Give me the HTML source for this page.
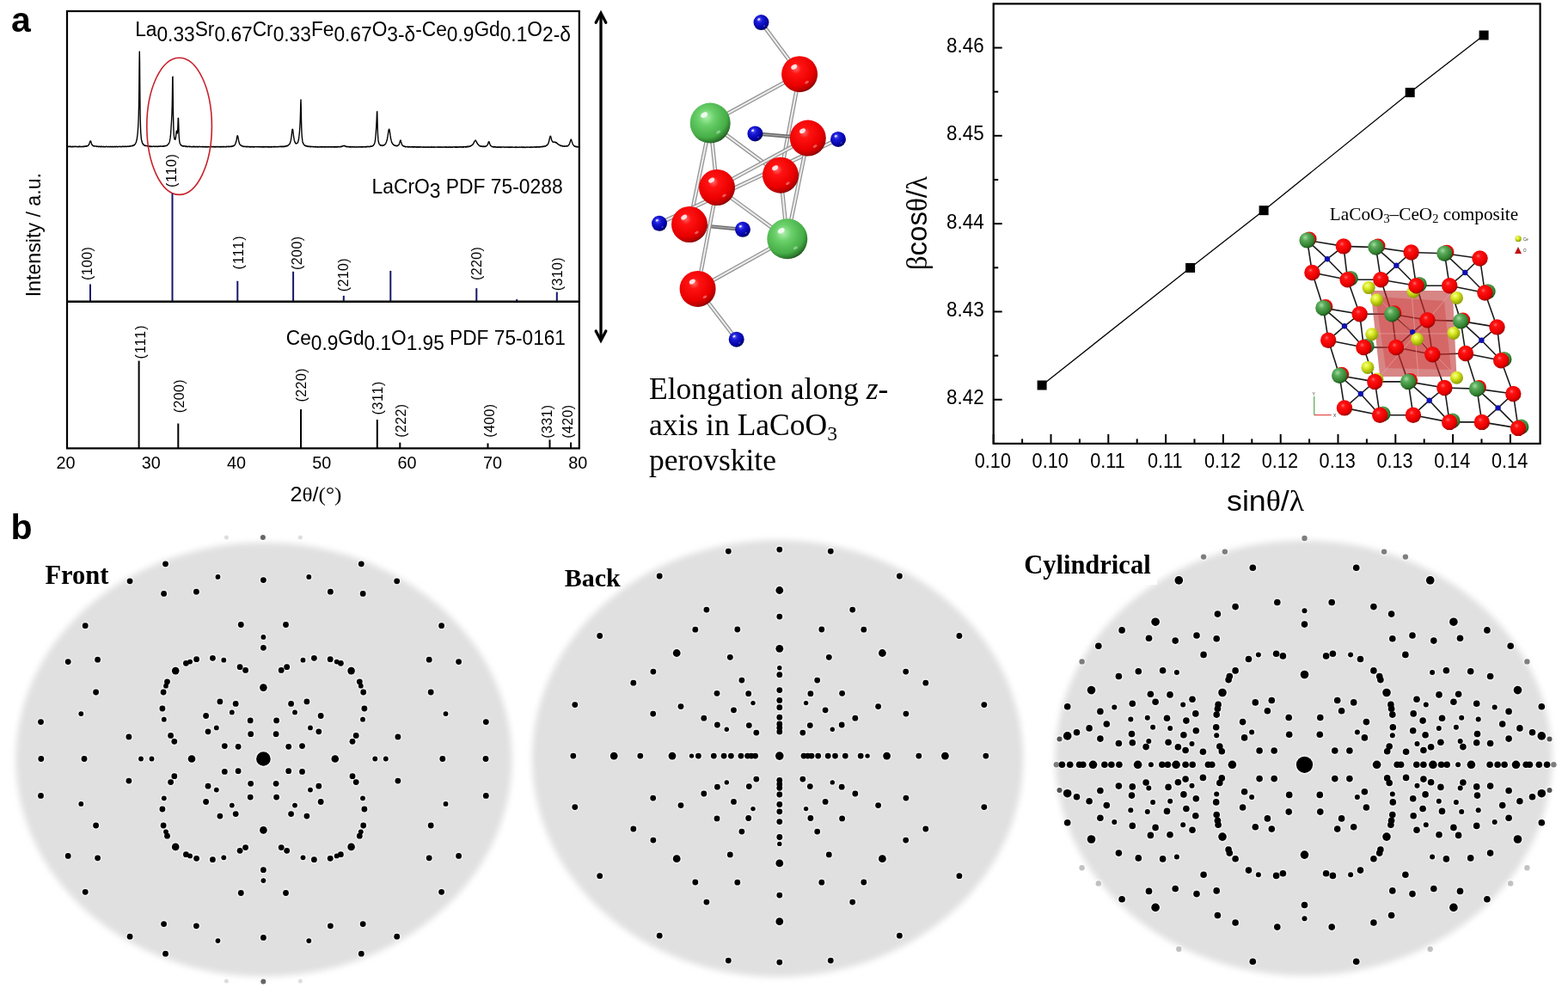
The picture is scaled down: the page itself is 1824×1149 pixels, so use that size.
<!DOCTYPE html><html><head><meta charset="utf-8"><title>Figure</title><style>html,body{margin:0;padding:0;background:#fff;}svg{display:block;}</style></head><body>
<svg width="1824" height="1149" viewBox="0 0 1824 1149">
<defs>
<filter id="blur" x="-5%" y="-5%" width="110%" height="110%"><feGaussianBlur stdDeviation="3.5"/></filter>
<radialGradient id="sph_r" cx="0.4" cy="0.35" r="0.68"><stop offset="0" stop-color="#ff6a6a"/><stop offset="0.22" stop-color="#ff1212"/><stop offset="0.7" stop-color="#ea0000"/><stop offset="0.9" stop-color="#b80000"/><stop offset="1" stop-color="#780000"/></radialGradient>
<radialGradient id="sph_g" cx="0.4" cy="0.35" r="0.68"><stop offset="0" stop-color="#b0f0b0"/><stop offset="0.3" stop-color="#6ad06a"/><stop offset="0.75" stop-color="#46ae46"/><stop offset="0.92" stop-color="#2e7a2e"/><stop offset="1" stop-color="#1c4c1c"/></radialGradient>
<radialGradient id="sph_g2" cx="0.38" cy="0.32" r="0.7"><stop offset="0" stop-color="#a0dca0"/><stop offset="0.3" stop-color="#5aaa5a"/><stop offset="0.8" stop-color="#2e7e2e"/><stop offset="1" stop-color="#1a4a1a"/></radialGradient>
<radialGradient id="sph_b" cx="0.38" cy="0.32" r="0.7"><stop offset="0" stop-color="#6a6aff"/><stop offset="0.3" stop-color="#1a1ad8"/><stop offset="0.8" stop-color="#0000a0"/><stop offset="1" stop-color="#000050"/></radialGradient>
<radialGradient id="sph_y" cx="0.38" cy="0.32" r="0.7"><stop offset="0" stop-color="#f8ff90"/><stop offset="0.4" stop-color="#d8e820"/><stop offset="1" stop-color="#8a9a00"/></radialGradient>
</defs>
<rect width="1824" height="1149" fill="#fff"/>
<text x="13" y="37.3" font-family="'Liberation Sans', Arial, sans-serif" font-weight="bold" font-size="41" fill="#000">a</text>
<text x="12.5" y="626.6" font-family="'Liberation Sans', Arial, sans-serif" font-weight="bold" font-size="41" fill="#000">b</text>
<g id="xrd">
<path d="M79 170.46 L79.25 170.35 L79.5 170.65 L79.75 170.31 L80 170.58 L80.25 170.48 L80.5 170.3 L80.75 170.57 L81 170.28 L81.25 170.52 L81.5 170.3 L81.75 170.32 L82 170.52 L82.25 170.76 L82.5 170.33 L82.75 170.39 L83 170.64 L83.25 170.83 L83.5 170.6 L83.75 170.5 L84 170.84 L84.25 170.29 L84.5 170.77 L84.75 170.43 L85 170.34 L85.25 170.33 L85.5 170.44 L85.75 170.74 L86 170.36 L86.25 170.6 L86.5 170.64 L86.75 170.47 L87 170.58 L87.25 170.29 L87.5 170.28 L87.75 170.37 L88 170.65 L88.25 170.5 L88.5 170.43 L88.75 170.59 L89 170.51 L89.25 170.42 L89.5 170.72 L89.75 170.66 L90 170.38 L90.25 170.58 L90.5 170.55 L90.75 170.76 L91 170.67 L91.25 170.4 L91.5 170.81 L91.75 170.29 L92 170.47 L92.25 170.67 L92.5 170.31 L92.75 170.5 L93 170.23 L93.25 170.61 L93.5 170.66 L93.75 170.54 L94 170.72 L94.25 170.38 L94.5 170.6 L94.75 170.54 L95 170.52 L95.25 170.44 L95.5 170.67 L95.75 170.72 L96 170.43 L96.25 170.54 L96.5 170.17 L96.75 170.54 L97 170.5 L97.25 170.69 L97.5 170.58 L97.75 170.24 L98 170.29 L98.25 170.44 L98.5 170.04 L98.75 170.28 L99 170.08 L99.25 170.02 L99.5 169.96 L99.75 170.35 L100 169.93 L100.25 169.96 L100.5 170 L100.75 170.23 L101 169.69 L101.25 169.83 L101.5 169.8 L101.75 169.9 L102 169.73 L102.25 169.61 L102.5 169.07 L102.75 168.92 L103 168.61 L103.25 168.59 L103.5 168.21 L103.75 167.21 L104 166.6 L104.25 165.92 L104.5 165.16 L104.75 164.61 L105 164.19 L105.25 163.87 L105.5 163.99 L105.75 164.83 L106 165.55 L106.25 166.42 L106.5 167.33 L106.75 167.75 L107 168.12 L107.25 168.57 L107.5 168.92 L107.75 168.81 L108 169.52 L108.25 169.62 L108.5 169.82 L108.75 169.89 L109 169.75 L109.25 169.84 L109.5 169.73 L109.75 170.11 L110 169.82 L110.25 169.87 L110.5 170 L110.75 170.01 L111 170.14 L111.25 170 L111.5 169.99 L111.75 170.11 L112 170.1 L112.25 170.27 L112.5 170.08 L112.75 170.61 L113 170.47 L113.25 170.2 L113.5 170.27 L113.75 170.34 L114 170.36 L114.25 170.22 L114.5 170.67 L114.75 170.76 L115 170.45 L115.25 170.47 L115.5 170.23 L115.75 170.25 L116 170.4 L116.25 170.36 L116.5 170.7 L116.75 170.3 L117 170.22 L117.25 170.78 L117.5 170.53 L117.75 170.31 L118 170.55 L118.25 170.24 L118.5 170.55 L118.75 170.82 L119 170.75 L119.25 170.65 L119.5 170.39 L119.75 170.46 L120 170.34 L120.25 170.71 L120.5 170.56 L120.75 170.71 L121 170.45 L121.25 170.38 L121.5 170.74 L121.75 170.84 L122 170.76 L122.25 170.74 L122.5 170.75 L122.75 170.7 L123 170.39 L123.25 170.57 L123.5 170.47 L123.75 170.28 L124 170.28 L124.25 170.43 L124.5 170.42 L124.75 170.68 L125 170.84 L125.25 170.53 L125.5 170.82 L125.75 170.86 L126 170.84 L126.25 170.48 L126.5 170.4 L126.75 170.4 L127 170.38 L127.25 170.39 L127.5 170.64 L127.75 170.8 L128 170.77 L128.25 170.55 L128.5 170.65 L128.75 170.74 L129 170.31 L129.25 170.66 L129.5 170.81 L129.75 170.73 L130 170.71 L130.25 170.55 L130.5 170.37 L130.75 170.73 L131 170.46 L131.25 170.74 L131.5 170.84 L131.75 170.49 L132 170.5 L132.25 170.82 L132.5 170.69 L132.75 170.36 L133 170.33 L133.25 170.34 L133.5 170.79 L133.75 170.73 L134 170.34 L134.25 170.74 L134.5 170.84 L134.75 170.64 L135 170.45 L135.25 170.57 L135.5 170.32 L135.75 170.25 L136 170.82 L136.25 170.63 L136.5 170.55 L136.75 170.79 L137 170.49 L137.25 170.75 L137.5 170.72 L137.75 170.35 L138 170.38 L138.25 170.4 L138.5 170.36 L138.75 170.57 L139 170.37 L139.25 170.46 L139.5 170.29 L139.75 170.75 L140 170.42 L140.25 170.48 L140.5 170.55 L140.75 170.74 L141 170.44 L141.25 170.74 L141.5 170.49 L141.75 170.5 L142 170.49 L142.25 170.18 L142.5 170.43 L142.75 170.27 L143 170.16 L143.25 170.63 L143.5 170.25 L143.75 170.43 L144 170.57 L144.25 170.47 L144.5 170.32 L144.75 170.43 L145 170.45 L145.25 170.58 L145.5 170.16 L145.75 170.43 L146 170.23 L146.25 170.24 L146.5 170.53 L146.75 170.36 L147 170.38 L147.25 170.49 L147.5 170.57 L147.75 170.28 L148 170.37 L148.25 170.29 L148.5 170.28 L148.75 170.37 L149 170.21 L149.25 170.25 L149.5 170.2 L149.75 170.46 L150 170.29 L150.25 170.38 L150.5 170.39 L150.75 169.96 L151 170.11 L151.25 170.32 L151.5 170.22 L151.75 169.77 L152 169.73 L152.25 169.88 L152.5 169.62 L152.75 169.68 L153 169.53 L153.25 169.84 L153.5 169.85 L153.75 169.86 L154 169.34 L154.25 169.61 L154.5 169.49 L154.75 169.09 L155 169.44 L155.25 169.37 L155.5 168.8 L155.75 169.1 L156 168.61 L156.25 168.49 L156.5 168.59 L156.75 168.26 L157 167.59 L157.25 167.45 L157.5 167.14 L157.75 166.61 L158 166.03 L158.25 165.52 L158.5 165.06 L158.75 163.79 L159 163.09 L159.25 161.78 L159.5 160 L159.75 158.34 L160 156.26 L160.25 153.47 L160.5 149.94 L160.75 146.58 L161 141.58 L161.25 135.02 L161.5 124.2 L161.75 107.07 L162 80.68 L162.25 60.02 L162.5 72.13 L162.75 102.2 L163 125.55 L163.25 140.03 L163.5 148.59 L163.75 153.74 L164 157.34 L164.25 160.37 L164.5 162.03 L164.75 163.52 L165 164.23 L165.25 165.07 L165.5 166.13 L165.75 166.54 L166 166.79 L166.25 167.69 L166.5 167.84 L166.75 168.22 L167 168.03 L167.25 168.7 L167.5 168.41 L167.75 169.04 L168 168.94 L168.25 168.99 L168.5 169.23 L168.75 169.56 L169 169.25 L169.25 169.25 L169.5 169.56 L169.75 169.45 L170 169.43 L170.25 169.52 L170.5 169.5 L170.75 169.64 L171 169.75 L171.25 169.78 L171.5 170.09 L171.75 169.84 L172 170 L172.25 169.83 L172.5 169.96 L172.75 169.79 L173 169.95 L173.25 169.83 L173.5 170.28 L173.75 170.19 L174 169.99 L174.25 170.18 L174.5 170.47 L174.75 169.98 L175 170.42 L175.25 170.2 L175.5 170.25 L175.75 170.47 L176 170.21 L176.25 170.29 L176.5 170.4 L176.75 170.59 L177 170.21 L177.25 170.51 L177.5 170.44 L177.75 170.41 L178 170.27 L178.25 170.24 L178.5 170.07 L178.75 170.12 L179 170.09 L179.25 170.5 L179.5 170.21 L179.75 170.15 L180 170.11 L180.25 170.56 L180.5 170.58 L180.75 170.46 L181 170.23 L181.25 170.21 L181.5 170.24 L181.75 170.34 L182 170.15 L182.25 170.33 L182.5 170.22 L182.75 170.63 L183 170.64 L183.25 170.38 L183.5 170.19 L183.75 170.62 L184 170.23 L184.25 170.25 L184.5 170.03 L184.75 170.25 L185 170.3 L185.25 170.31 L185.5 170.13 L185.75 170.3 L186 169.99 L186.25 170.14 L186.5 170.03 L186.75 170.2 L187 169.98 L187.25 169.95 L187.5 170.11 L187.75 170.05 L188 170.25 L188.25 170.2 L188.5 170.32 L188.75 170.24 L189 170.26 L189.25 170.34 L189.5 170.02 L189.75 169.96 L190 170.33 L190.25 169.8 L190.5 170.11 L190.75 170.03 L191 169.64 L191.25 170.08 L191.5 170.07 L191.75 169.86 L192 169.88 L192.25 169.87 L192.5 169.41 L192.75 169.57 L193 169.49 L193.25 169.6 L193.5 169.5 L193.75 169.41 L194 169.15 L194.25 169.21 L194.5 168.94 L194.75 168.79 L195 168.33 L195.25 168 L195.5 167.82 L195.75 167.68 L196 167.19 L196.25 167.25 L196.5 166.62 L196.75 166.11 L197 165.44 L197.25 164.67 L197.5 163.55 L197.75 162.01 L198 160.93 L198.25 158.95 L198.5 156.34 L198.75 153.33 L199 149.77 L199.25 145.29 L199.5 141.35 L199.75 136.65 L200 131.47 L200.25 123.64 L200.5 109.39 L200.75 89.67 L201 89.21 L201.25 112.16 L201.5 132.18 L201.75 144.29 L202 151.43 L202.25 155.87 L202.5 158.66 L202.75 160.37 L203 161.54 L203.25 161.9 L203.5 162.24 L203.75 162.25 L204 162.09 L204.25 160.9 L204.5 159.56 L204.75 157.1 L205 154.59 L205.25 152.59 L205.5 152.25 L205.75 153.28 L206 154.7 L206.25 155.06 L206.5 154.18 L206.75 150.81 L207 144.62 L207.25 137.43 L207.5 137.49 L207.75 144.58 L208 153.06 L208.25 158.53 L208.5 161.42 L208.75 163.88 L209 165.56 L209.25 166.66 L209.5 167.08 L209.75 167.52 L210 167.9 L210.25 168.67 L210.5 168.5 L210.75 168.94 L211 168.86 L211.25 169.24 L211.5 169.63 L211.75 169.25 L212 169.76 L212.25 169.66 L212.5 169.96 L212.75 169.92 L213 169.7 L213.25 170.15 L213.5 169.95 L213.75 169.72 L214 169.75 L214.25 170.08 L214.5 170.09 L214.75 170.03 L215 169.96 L215.25 170.11 L215.5 170.12 L215.75 170.46 L216 169.97 L216.25 170.44 L216.5 170.52 L216.75 170.1 L217 170.6 L217.25 170.49 L217.5 170.62 L217.75 170.26 L218 170.33 L218.25 170.35 L218.5 170.73 L218.75 170.49 L219 170.37 L219.25 170.42 L219.5 170.33 L219.75 170.21 L220 170.25 L220.25 170.7 L220.5 170.37 L220.75 170.77 L221 170.37 L221.25 170.38 L221.5 170.54 L221.75 170.35 L222 170.47 L222.25 170.82 L222.5 170.79 L222.75 170.75 L223 170.65 L223.25 170.82 L223.5 170.84 L223.75 170.61 L224 170.72 L224.25 170.32 L224.5 170.73 L224.75 170.57 L225 170.75 L225.25 170.69 L225.5 170.48 L225.75 170.34 L226 170.87 L226.25 170.4 L226.5 170.61 L226.75 170.53 L227 170.51 L227.25 170.78 L227.5 170.92 L227.75 170.5 L228 170.74 L228.25 170.53 L228.5 170.68 L228.75 170.59 L229 170.45 L229.25 170.45 L229.5 170.48 L229.75 170.9 L230 170.66 L230.25 170.5 L230.5 170.91 L230.75 170.97 L231 170.64 L231.25 170.46 L231.5 170.49 L231.75 170.43 L232 170.58 L232.25 170.43 L232.5 170.52 L232.75 170.54 L233 170.73 L233.25 170.92 L233.5 170.84 L233.75 170.64 L234 170.64 L234.25 170.71 L234.5 170.62 L234.75 170.6 L235 170.43 L235.25 170.56 L235.5 170.98 L235.75 170.47 L236 170.7 L236.25 170.78 L236.5 170.92 L236.75 170.53 L237 170.57 L237.25 170.55 L237.5 170.65 L237.75 170.68 L238 170.98 L238.25 170.92 L238.5 170.93 L238.75 170.42 L239 170.43 L239.25 170.84 L239.5 170.95 L239.75 170.7 L240 170.77 L240.25 170.42 L240.5 170.65 L240.75 170.97 L241 170.91 L241.25 170.93 L241.5 171 L241.75 170.57 L242 170.49 L242.25 170.51 L242.5 170.74 L242.75 170.83 L243 170.99 L243.25 170.86 L243.5 170.81 L243.75 170.88 L244 170.7 L244.25 170.76 L244.5 170.45 L244.75 170.9 L245 170.57 L245.25 170.98 L245.5 170.82 L245.75 170.61 L246 170.51 L246.25 170.58 L246.5 170.81 L246.75 170.85 L247 170.5 L247.25 170.47 L247.5 170.74 L247.75 170.78 L248 170.66 L248.25 170.56 L248.5 170.79 L248.75 170.44 L249 170.61 L249.25 170.71 L249.5 171.01 L249.75 170.82 L250 170.96 L250.25 170.71 L250.5 170.57 L250.75 170.58 L251 171.01 L251.25 170.85 L251.5 170.61 L251.75 170.44 L252 170.73 L252.25 170.83 L252.5 170.68 L252.75 170.58 L253 170.83 L253.25 170.98 L253.5 170.56 L253.75 170.44 L254 170.63 L254.25 170.67 L254.5 170.83 L254.75 170.54 L255 170.9 L255.25 170.86 L255.5 170.72 L255.75 170.54 L256 171 L256.25 170.6 L256.5 170.91 L256.75 170.55 L257 170.54 L257.25 170.87 L257.5 170.58 L257.75 170.98 L258 170.7 L258.25 170.51 L258.5 170.53 L258.75 170.65 L259 170.79 L259.25 170.96 L259.5 170.48 L259.75 170.62 L260 170.51 L260.25 170.97 L260.5 170.46 L260.75 170.41 L261 170.41 L261.25 170.6 L261.5 170.9 L261.75 170.89 L262 170.8 L262.25 170.95 L262.5 170.91 L262.75 170.54 L263 170.45 L263.25 170.89 L263.5 170.77 L263.75 170.34 L264 170.71 L264.25 170.53 L264.5 170.52 L264.75 170.49 L265 170.38 L265.25 170.27 L265.5 170.42 L265.75 170.46 L266 170.81 L266.25 170.29 L266.5 170.79 L266.75 170.32 L267 170.39 L267.25 170.65 L267.5 170.63 L267.75 170.38 L268 170.12 L268.25 170.35 L268.5 170.27 L268.75 170.56 L269 170.1 L269.25 170.16 L269.5 170.44 L269.75 169.88 L270 170.05 L270.25 170.24 L270.5 170.15 L270.75 169.64 L271 169.56 L271.25 169.49 L271.5 169.9 L271.75 169.38 L272 169.54 L272.25 169.47 L272.5 168.95 L272.75 168.69 L273 168.84 L273.25 168.33 L273.5 167.75 L273.75 167.57 L274 166.79 L274.25 166.11 L274.5 165.14 L274.75 164.63 L275 163.58 L275.25 162.09 L275.5 160.87 L275.75 158.97 L276 158.04 L276.25 157.7 L276.5 158.2 L276.75 159.06 L277 159.98 L277.25 161.31 L277.5 162.78 L277.75 164.04 L278 165.34 L278.25 165.76 L278.5 166.84 L278.75 167.39 L279 167.92 L279.25 168.29 L279.5 168.52 L279.75 168.64 L280 168.86 L280.25 169.09 L280.5 169.51 L280.75 169.23 L281 169.43 L281.25 169.87 L281.5 169.67 L281.75 169.64 L282 169.7 L282.25 170.07 L282.5 170 L282.75 170.44 L283 170.43 L283.25 170.54 L283.5 170.14 L283.75 170.07 L284 170.11 L284.25 170.38 L284.5 170.53 L284.75 170.4 L285 170.29 L285.25 170.42 L285.5 170.56 L285.75 170.61 L286 170.67 L286.25 170.75 L286.5 170.65 L286.75 170.34 L287 170.78 L287.25 170.47 L287.5 170.64 L287.75 170.53 L288 170.76 L288.25 170.45 L288.5 170.48 L288.75 170.49 L289 170.44 L289.25 170.89 L289.5 170.71 L289.75 170.57 L290 170.61 L290.25 170.98 L290.5 170.69 L290.75 170.53 L291 170.88 L291.25 170.79 L291.5 171 L291.75 170.47 L292 170.7 L292.25 170.91 L292.5 170.93 L292.75 170.97 L293 170.45 L293.25 170.61 L293.5 170.51 L293.75 170.55 L294 171.02 L294.25 170.79 L294.5 171 L294.75 170.67 L295 170.97 L295.25 170.72 L295.5 170.61 L295.75 170.92 L296 171.02 L296.25 170.52 L296.5 170.82 L296.75 170.83 L297 170.59 L297.25 170.69 L297.5 170.55 L297.75 170.59 L298 170.62 L298.25 170.83 L298.5 170.86 L298.75 170.6 L299 170.48 L299.25 170.67 L299.5 170.88 L299.75 170.59 L300 170.67 L300.25 170.6 L300.5 170.96 L300.75 170.81 L301 170.52 L301.25 170.54 L301.5 170.72 L301.75 170.81 L302 170.87 L302.25 170.54 L302.5 170.58 L302.75 170.9 L303 170.73 L303.25 170.66 L303.5 170.67 L303.75 171.06 L304 170.68 L304.25 170.83 L304.5 170.7 L304.75 170.74 L305 171.01 L305.25 171.09 L305.5 170.71 L305.75 170.61 L306 170.93 L306.25 170.61 L306.5 170.49 L306.75 171.03 L307 170.75 L307.25 170.98 L307.5 170.73 L307.75 171.02 L308 170.77 L308.25 170.59 L308.5 170.5 L308.75 170.82 L309 170.87 L309.25 171.03 L309.5 170.54 L309.75 170.86 L310 170.71 L310.25 170.79 L310.5 170.57 L310.75 170.66 L311 170.8 L311.25 171.04 L311.5 170.55 L311.75 170.78 L312 170.97 L312.25 171.06 L312.5 170.6 L312.75 170.56 L313 171.05 L313.25 171.06 L313.5 170.77 L313.75 170.51 L314 171.03 L314.25 170.71 L314.5 171.02 L314.75 170.84 L315 170.97 L315.25 170.57 L315.5 170.94 L315.75 170.6 L316 170.71 L316.25 170.97 L316.5 170.96 L316.75 170.57 L317 170.59 L317.25 170.7 L317.5 170.76 L317.75 170.68 L318 170.52 L318.25 170.6 L318.5 170.88 L318.75 170.98 L319 170.46 L319.25 170.77 L319.5 170.89 L319.75 170.45 L320 170.93 L320.25 170.5 L320.5 170.78 L320.75 170.75 L321 170.79 L321.25 170.6 L321.5 170.66 L321.75 170.75 L322 170.65 L322.25 170.79 L322.5 170.66 L322.75 170.65 L323 170.39 L323.25 170.75 L323.5 170.66 L323.75 170.51 L324 170.82 L324.25 170.82 L324.5 170.62 L324.75 170.45 L325 170.62 L325.25 170.39 L325.5 170.39 L325.75 170.57 L326 170.35 L326.25 170.56 L326.5 170.59 L326.75 170.29 L327 170.64 L327.25 170.3 L327.5 170.68 L327.75 170.69 L328 170.52 L328.25 170.23 L328.5 170.48 L328.75 170.39 L329 170.72 L329.25 170.21 L329.5 170.62 L329.75 170.69 L330 170.51 L330.25 170.53 L330.5 170.14 L330.75 170.58 L331 170.26 L331.25 170.51 L331.5 170.45 L331.75 169.96 L332 170.29 L332.25 170.34 L332.5 169.77 L332.75 169.89 L333 170.08 L333.25 169.66 L333.5 170.03 L333.75 169.58 L334 169.82 L334.25 169.33 L334.5 169.44 L334.75 169.58 L335 169.02 L335.25 168.9 L335.5 168.88 L335.75 168.57 L336 168.18 L336.25 168.01 L336.5 167.7 L336.75 167.82 L337 167.25 L337.25 166.89 L337.5 165.86 L337.75 165.53 L338 164.27 L338.25 163.48 L338.5 162.28 L338.75 160.59 L339 159.09 L339.25 156.84 L339.5 154.64 L339.75 152.7 L340 150.58 L340.25 150.32 L340.5 150.41 L340.75 151.57 L341 153.74 L341.25 155.57 L341.5 158.09 L341.75 159.69 L342 161.13 L342.25 162.66 L342.5 163.52 L342.75 164.21 L343 165.22 L343.25 165.35 L343.5 166.23 L343.75 166.22 L344 166.7 L344.25 167.08 L344.5 166.95 L344.75 167.04 L345 166.82 L345.25 166.57 L345.5 166.45 L345.75 166.32 L346 166.32 L346.25 165.83 L346.5 165.4 L346.75 165 L347 163.74 L347.25 162.78 L347.5 161.75 L347.75 159.73 L348 157.67 L348.25 155.36 L348.5 152.19 L348.75 148.82 L349 144.61 L349.25 139.56 L349.5 131.85 L349.75 121.11 L350 115.9 L350.25 124.95 L350.5 138.39 L350.75 148.71 L351 154.47 L351.25 158.36 L351.5 160.97 L351.75 163.14 L352 164.64 L352.25 165.61 L352.5 166.17 L352.75 166.72 L353 167.07 L353.25 167.86 L353.5 168.16 L353.75 168.32 L354 168.74 L354.25 168.83 L354.5 169.31 L354.75 169.34 L355 169.19 L355.25 169.71 L355.5 169.3 L355.75 169.69 L356 169.7 L356.25 169.67 L356.5 169.64 L356.75 170.13 L357 169.73 L357.25 170.1 L357.5 170.39 L357.75 169.95 L358 170.02 L358.25 170.31 L358.5 170.28 L358.75 170.39 L359 170.53 L359.25 170.17 L359.5 170.28 L359.75 170.29 L360 170.17 L360.25 170.69 L360.5 170.65 L360.75 170.63 L361 170.22 L361.25 170.74 L361.5 170.69 L361.75 170.54 L362 170.72 L362.25 170.56 L362.5 170.44 L362.75 170.37 L363 170.46 L363.25 170.36 L363.5 170.54 L363.75 170.8 L364 170.78 L364.25 170.88 L364.5 170.81 L364.75 170.55 L365 170.73 L365.25 170.66 L365.5 170.88 L365.75 170.73 L366 170.58 L366.25 170.81 L366.5 171.01 L366.75 170.57 L367 170.97 L367.25 170.46 L367.5 170.61 L367.75 170.6 L368 170.91 L368.25 171.04 L368.5 170.92 L368.75 170.68 L369 171.01 L369.25 170.69 L369.5 170.64 L369.75 171.04 L370 170.88 L370.25 170.92 L370.5 170.91 L370.75 171.1 L371 170.79 L371.25 171.02 L371.5 170.94 L371.75 171.04 L372 170.79 L372.25 170.96 L372.5 170.87 L372.75 170.72 L373 170.66 L373.25 170.91 L373.5 170.59 L373.75 171.09 L374 170.63 L374.25 170.56 L374.5 170.61 L374.75 171.11 L375 170.76 L375.25 170.64 L375.5 170.57 L375.75 170.58 L376 170.97 L376.25 170.94 L376.5 170.98 L376.75 171.01 L377 170.6 L377.25 170.92 L377.5 170.79 L377.75 171.06 L378 171.06 L378.25 171.11 L378.5 170.61 L378.75 171.09 L379 171.12 L379.25 171.14 L379.5 170.64 L379.75 170.7 L380 170.65 L380.25 170.6 L380.5 171.09 L380.75 171.07 L381 170.96 L381.25 171.08 L381.5 170.96 L381.75 170.76 L382 170.65 L382.25 170.64 L382.5 171.04 L382.75 170.71 L383 170.78 L383.25 170.84 L383.5 170.6 L383.75 170.74 L384 170.76 L384.25 171.02 L384.5 170.81 L384.75 170.78 L385 171.17 L385.25 170.89 L385.5 171.1 L385.75 170.96 L386 170.61 L386.25 170.84 L386.5 170.85 L386.75 171.05 L387 170.79 L387.25 171.01 L387.5 170.91 L387.75 170.71 L388 171.1 L388.25 170.64 L388.5 171.07 L388.75 170.68 L389 170.58 L389.25 170.7 L389.5 171.03 L389.75 171.16 L390 170.57 L390.25 170.86 L390.5 170.86 L390.75 171.04 L391 170.67 L391.25 170.85 L391.5 170.76 L391.75 171.05 L392 170.7 L392.25 171.11 L392.5 170.71 L392.75 170.66 L393 170.94 L393.25 170.81 L393.5 170.57 L393.75 170.88 L394 170.54 L394.25 170.95 L394.5 170.88 L394.75 170.92 L395 170.81 L395.25 170.63 L395.5 170.63 L395.75 170.6 L396 170.87 L396.25 170.36 L396.5 170.8 L396.75 170.24 L397 170.3 L397.25 170.28 L397.5 170.6 L397.75 170.28 L398 170.12 L398.25 170.32 L398.5 169.82 L398.75 169.84 L399 169.76 L399.25 169.78 L399.5 169.68 L399.75 169.55 L400 169.35 L400.25 169.36 L400.5 169.32 L400.75 169.83 L401 169.84 L401.25 170.01 L401.5 169.78 L401.75 170.06 L402 170.36 L402.25 170.33 L402.5 170.13 L402.75 170.4 L403 170.71 L403.25 170.37 L403.5 170.39 L403.75 170.49 L404 170.76 L404.25 170.88 L404.5 170.49 L404.75 170.51 L405 170.58 L405.25 170.65 L405.5 170.78 L405.75 170.57 L406 170.69 L406.25 170.61 L406.5 171.09 L406.75 170.96 L407 170.59 L407.25 171.11 L407.5 170.6 L407.75 170.77 L408 171.14 L408.25 171.03 L408.5 171 L408.75 170.82 L409 170.68 L409.25 170.95 L409.5 170.63 L409.75 170.7 L410 170.81 L410.25 170.6 L410.5 170.82 L410.75 171.05 L411 171 L411.25 170.88 L411.5 170.96 L411.75 170.86 L412 170.67 L412.25 170.95 L412.5 170.83 L412.75 171.03 L413 171.13 L413.25 170.85 L413.5 170.93 L413.75 171.04 L414 170.84 L414.25 170.72 L414.5 171.02 L414.75 171.11 L415 171.05 L415.25 171.01 L415.5 171.1 L415.75 170.99 L416 170.97 L416.25 170.85 L416.5 170.77 L416.75 170.96 L417 170.64 L417.25 170.83 L417.5 171.04 L417.75 171 L418 170.95 L418.25 170.72 L418.5 170.82 L418.75 170.84 L419 170.94 L419.25 170.81 L419.5 170.96 L419.75 171.11 L420 170.66 L420.25 170.94 L420.5 171.02 L420.75 170.78 L421 170.84 L421.25 171.12 L421.5 170.56 L421.75 170.86 L422 170.62 L422.25 170.99 L422.5 171.08 L422.75 170.83 L423 170.57 L423.25 170.85 L423.5 170.82 L423.75 170.92 L424 170.79 L424.25 170.86 L424.5 170.97 L424.75 170.78 L425 170.71 L425.25 171.02 L425.5 170.57 L425.75 170.85 L426 170.66 L426.25 170.87 L426.5 170.48 L426.75 170.99 L427 170.6 L427.25 170.4 L427.5 170.52 L427.75 170.58 L428 170.34 L428.25 170.56 L428.5 170.55 L428.75 170.7 L429 170.47 L429.25 170.39 L429.5 170.35 L429.75 170.63 L430 170.72 L430.25 170.44 L430.5 170.23 L430.75 170.54 L431 170.25 L431.25 170.1 L431.5 170.01 L431.75 170.34 L432 170.3 L432.25 170.13 L432.5 169.95 L432.75 169.93 L433 169.63 L433.25 169.96 L433.5 169.47 L433.75 169.49 L434 169.43 L434.25 169.22 L434.5 168.77 L434.75 168.38 L435 168.18 L435.25 167.49 L435.5 167.38 L435.75 166.41 L436 165.84 L436.25 164.37 L436.5 162.96 L436.75 160.95 L437 158.53 L437.25 155.17 L437.5 151.21 L437.75 147.43 L438 142.76 L438.25 137.39 L438.5 130.63 L438.75 129.64 L439 139.42 L439.25 149.73 L439.5 156.27 L439.75 160.06 L440 162.92 L440.25 164.57 L440.5 165.28 L440.75 166.61 L441 167.3 L441.25 167.72 L441.5 167.72 L441.75 168.44 L442 168.56 L442.25 168.38 L442.5 168.53 L442.75 169.22 L443 169.14 L443.25 168.97 L443.5 168.93 L443.75 169 L444 169.07 L444.25 169.41 L444.5 169.15 L444.75 169.02 L445 169.45 L445.25 169.34 L445.5 168.92 L445.75 169.29 L446 169.05 L446.25 169.06 L446.5 168.89 L446.75 168.9 L447 168.7 L447.25 168.56 L447.5 167.99 L447.75 168.07 L448 167.73 L448.25 167.57 L448.5 167.05 L448.75 166.94 L449 166.29 L449.25 165.6 L449.5 164.97 L449.75 164.21 L450 163.59 L450.25 162.35 L450.5 161.47 L450.75 159.97 L451 158.69 L451.25 157.05 L451.5 155.32 L451.75 153.77 L452 151.68 L452.25 150.98 L452.5 150.14 L452.75 150.27 L453 151.08 L453.25 152.49 L453.5 153.84 L453.75 155.63 L454 157.69 L454.25 158.78 L454.5 160.58 L454.75 161.85 L455 162.59 L455.25 163.89 L455.5 164.75 L455.75 165.59 L456 165.82 L456.25 166.73 L456.5 166.88 L456.75 167.25 L457 167.83 L457.25 167.59 L457.5 168.25 L457.75 168.42 L458 168.44 L458.25 168.92 L458.5 168.77 L458.75 168.96 L459 169.1 L459.25 169.35 L459.5 169.1 L459.75 169.31 L460 169.36 L460.25 169.49 L460.5 169.69 L460.75 169.4 L461 169.74 L461.25 169.49 L461.5 169.55 L461.75 169.39 L462 169.5 L462.25 169.73 L462.5 169.46 L462.75 169.45 L463 169.05 L463.25 168.87 L463.5 168.65 L463.75 168.55 L464 168.23 L464.25 167.87 L464.5 166.86 L464.75 166.57 L465 165.85 L465.25 164.75 L465.5 163.64 L465.75 163.27 L466 163.05 L466.25 163.63 L466.5 164.88 L466.75 165.62 L467 166.52 L467.25 167.36 L467.5 168.06 L467.75 168.39 L468 168.79 L468.25 169.12 L468.5 169.43 L468.75 169.58 L469 169.81 L469.25 169.67 L469.5 170.07 L469.75 170.05 L470 170.32 L470.25 170 L470.5 170.11 L470.75 170.08 L471 170.58 L471.25 170.7 L471.5 170.59 L471.75 170.45 L472 170.76 L472.25 170.77 L472.5 170.66 L472.75 170.5 L473 170.55 L473.25 170.64 L473.5 170.6 L473.75 170.68 L474 170.82 L474.25 171.01 L474.5 170.5 L474.75 170.82 L475 170.52 L475.25 170.58 L475.5 171 L475.75 170.87 L476 171.09 L476.25 170.81 L476.5 170.56 L476.75 170.79 L477 170.92 L477.25 171.14 L477.5 171.17 L477.75 170.87 L478 170.84 L478.25 170.66 L478.5 170.99 L478.75 170.74 L479 170.71 L479.25 170.63 L479.5 170.63 L479.75 171.04 L480 170.71 L480.25 171.22 L480.5 170.7 L480.75 171.17 L481 170.73 L481.25 170.67 L481.5 171.09 L481.75 170.81 L482 171.11 L482.25 170.78 L482.5 170.71 L482.75 171.14 L483 171.11 L483.25 171.2 L483.5 171.13 L483.75 170.74 L484 171.07 L484.25 171.12 L484.5 170.97 L484.75 171.26 L485 170.86 L485.25 171.28 L485.5 171.14 L485.75 170.72 L486 170.72 L486.25 171.1 L486.5 171.21 L486.75 170.77 L487 170.91 L487.25 171.16 L487.5 170.82 L487.75 171.24 L488 171.02 L488.25 170.77 L488.5 170.95 L488.75 171.08 L489 171 L489.25 171.14 L489.5 170.82 L489.75 171.22 L490 170.96 L490.25 171.13 L490.5 171.12 L490.75 171 L491 170.98 L491.25 171.22 L491.5 171.32 L491.75 171.22 L492 171.09 L492.25 170.93 L492.5 170.79 L492.75 171.34 L493 171.18 L493.25 171.25 L493.5 170.96 L493.75 171.12 L494 171.35 L494.25 171.26 L494.5 171.12 L494.75 170.95 L495 171.02 L495.25 171.3 L495.5 170.99 L495.75 171.18 L496 171.13 L496.25 171.31 L496.5 171.26 L496.75 170.94 L497 170.77 L497.25 170.93 L497.5 171.03 L497.75 171.13 L498 171.27 L498.25 171.31 L498.5 170.8 L498.75 171.28 L499 171.27 L499.25 171.3 L499.5 171.12 L499.75 170.95 L500 171.29 L500.25 171.27 L500.5 171.19 L500.75 171.33 L501 170.99 L501.25 170.84 L501.5 171.12 L501.75 171.27 L502 170.91 L502.25 171.24 L502.5 171.35 L502.75 170.93 L503 171.15 L503.25 171.2 L503.5 171.07 L503.75 170.92 L504 170.95 L504.25 171.24 L504.5 171.27 L504.75 171.07 L505 170.85 L505.25 171.28 L505.5 171.26 L505.75 170.94 L506 171.14 L506.25 171.33 L506.5 171.33 L506.75 171.11 L507 171.08 L507.25 171.15 L507.5 170.91 L507.75 170.91 L508 170.91 L508.25 171.22 L508.5 171.02 L508.75 171.14 L509 171.04 L509.25 171.11 L509.5 170.89 L509.75 170.83 L510 171.4 L510.25 171.03 L510.5 170.87 L510.75 171.18 L511 171.28 L511.25 170.9 L511.5 171.16 L511.75 171.01 L512 171.12 L512.25 170.82 L512.5 170.83 L512.75 171.4 L513 171.32 L513.25 171.1 L513.5 171.15 L513.75 170.96 L514 171.27 L514.25 171.06 L514.5 171.37 L514.75 171.27 L515 171.3 L515.25 171.38 L515.5 170.96 L515.75 170.83 L516 170.93 L516.25 170.91 L516.5 170.86 L516.75 170.84 L517 171.14 L517.25 171.33 L517.5 171.08 L517.75 171.37 L518 171.35 L518.25 170.84 L518.5 171.16 L518.75 171.04 L519 170.88 L519.25 171.38 L519.5 170.96 L519.75 171.14 L520 171.19 L520.25 171.38 L520.5 171.21 L520.75 171.04 L521 171.07 L521.25 170.9 L521.5 171.38 L521.75 171.4 L522 170.94 L522.25 170.83 L522.5 170.96 L522.75 171.01 L523 171.34 L523.25 171.34 L523.5 171.3 L523.75 170.83 L524 171.27 L524.25 171.22 L524.5 171.19 L524.75 171.39 L525 170.83 L525.25 170.88 L525.5 171.25 L525.75 171.36 L526 171.2 L526.25 170.97 L526.5 171.15 L526.75 171.25 L527 170.85 L527.25 170.98 L527.5 170.94 L527.75 170.86 L528 171.07 L528.25 170.88 L528.5 170.93 L528.75 170.87 L529 171.19 L529.25 170.79 L529.5 171.21 L529.75 170.89 L530 170.8 L530.25 171.33 L530.5 170.9 L530.75 171.33 L531 171.29 L531.25 171.3 L531.5 170.85 L531.75 171.03 L532 170.82 L532.25 171.31 L532.5 171.26 L532.75 171.13 L533 171.02 L533.25 170.95 L533.5 171.24 L533.75 171.03 L534 171.11 L534.25 170.82 L534.5 170.86 L534.75 170.76 L535 171.15 L535.25 171.05 L535.5 170.8 L535.75 171.23 L536 170.87 L536.25 170.95 L536.5 170.79 L536.75 170.85 L537 171.19 L537.25 170.88 L537.5 170.78 L537.75 170.96 L538 170.85 L538.25 171.2 L538.5 170.72 L538.75 171.23 L539 170.67 L539.25 171.16 L539.5 171.02 L539.75 170.73 L540 170.88 L540.25 170.76 L540.5 170.73 L540.75 170.68 L541 170.77 L541.25 171.13 L541.5 171.12 L541.75 171.06 L542 170.55 L542.25 170.65 L542.5 170.99 L542.75 170.47 L543 170.85 L543.25 170.57 L543.5 170.95 L543.75 170.35 L544 170.8 L544.25 170.49 L544.5 170.33 L544.75 170.22 L545 170.68 L545.25 170.45 L545.5 170.2 L545.75 170.3 L546 170.53 L546.25 170.06 L546.5 170.21 L546.75 169.87 L547 169.82 L547.25 170.09 L547.5 169.96 L547.75 169.54 L548 169.35 L548.25 169.22 L548.5 169.38 L548.75 169.15 L549 168.83 L549.25 168.58 L549.5 168.58 L549.75 168.37 L550 168.14 L550.25 167.66 L550.5 167.06 L550.75 166.57 L551 166.51 L551.25 165.84 L551.5 165.52 L551.75 164.61 L552 164.57 L552.25 163.85 L552.5 163.81 L552.75 163.6 L553 163.3 L553.25 163.09 L553.5 163.85 L553.75 163.93 L554 164.6 L554.25 164.73 L554.5 165.19 L554.75 166.08 L555 166.28 L555.25 166.6 L555.5 167.14 L555.75 167.65 L556 167.62 L556.25 168.23 L556.5 168.45 L556.75 168.73 L557 168.7 L557.25 169.24 L557.5 169.46 L557.75 169.64 L558 169.44 L558.25 169.79 L558.5 169.69 L558.75 170.01 L559 169.68 L559.25 170.24 L559.5 170.35 L559.75 170.13 L560 170.19 L560.25 170.25 L560.5 170.3 L560.75 170.02 L561 170.62 L561.25 170.2 L561.5 170.2 L561.75 170.17 L562 170.27 L562.25 170.62 L562.5 170.16 L562.75 170.2 L563 170.56 L563.25 170.25 L563.5 170.13 L563.75 170.47 L564 170.43 L564.25 170.36 L564.5 170.43 L564.75 170.02 L565 170.42 L565.25 170.25 L565.5 169.75 L565.75 169.67 L566 169.75 L566.25 169.56 L566.5 169.19 L566.75 168.8 L567 168.59 L567.25 167.95 L567.5 167.63 L567.75 167.09 L568 165.89 L568.25 165.41 L568.5 164.99 L568.75 164.51 L569 165.22 L569.25 165.94 L569.5 166.39 L569.75 167.17 L570 168.1 L570.25 168.46 L570.5 168.84 L570.75 169.52 L571 169.71 L571.25 169.68 L571.5 169.81 L571.75 170.02 L572 170.2 L572.25 170.64 L572.5 170.62 L572.75 170.76 L573 170.76 L573.25 170.84 L573.5 170.41 L573.75 170.73 L574 171.03 L574.25 171.05 L574.5 170.67 L574.75 170.8 L575 170.95 L575.25 170.81 L575.5 170.93 L575.75 170.67 L576 170.9 L576.25 170.96 L576.5 170.68 L576.75 170.77 L577 171.27 L577.25 171.17 L577.5 171.28 L577.75 171.1 L578 171.22 L578.25 171.27 L578.5 171.28 L578.75 170.77 L579 171.14 L579.25 170.92 L579.5 171.18 L579.75 170.94 L580 171.11 L580.25 171.34 L580.5 171.16 L580.75 170.95 L581 171.11 L581.25 171.06 L581.5 171.38 L581.75 170.98 L582 171 L582.25 171.21 L582.5 170.89 L582.75 171.18 L583 171.4 L583.25 171.14 L583.5 170.99 L583.75 171.11 L584 171.16 L584.25 170.93 L584.5 170.91 L584.75 170.92 L585 171.02 L585.25 171.09 L585.5 171.02 L585.75 171 L586 170.9 L586.25 171.18 L586.5 171.36 L586.75 171.22 L587 171.2 L587.25 171.25 L587.5 170.98 L587.75 171.29 L588 171.14 L588.25 171.19 L588.5 171.23 L588.75 171.15 L589 171.05 L589.25 171.02 L589.5 171 L589.75 171.18 L590 171.1 L590.25 171.23 L590.5 170.88 L590.75 171.09 L591 171.39 L591.25 171.02 L591.5 171.21 L591.75 171.17 L592 171.05 L592.25 171.47 L592.5 171.06 L592.75 171.34 L593 170.98 L593.25 170.92 L593.5 171.41 L593.75 171.15 L594 170.92 L594.25 171.12 L594.5 171.15 L594.75 171.33 L595 170.95 L595.25 171.02 L595.5 171.46 L595.75 171.33 L596 170.98 L596.25 171.09 L596.5 171.1 L596.75 171.29 L597 171.26 L597.25 171.4 L597.5 171.38 L597.75 171.2 L598 171.33 L598.25 171.34 L598.5 171.35 L598.75 171.18 L599 171.36 L599.25 171.32 L599.5 171.44 L599.75 170.97 L600 171.41 L600.25 170.89 L600.5 171.35 L600.75 171.24 L601 171.19 L601.25 171.47 L601.5 171.23 L601.75 171.14 L602 171.36 L602.25 171.41 L602.5 171.25 L602.75 171.12 L603 171.16 L603.25 171.16 L603.5 171.32 L603.75 171.06 L604 171.12 L604.25 171.22 L604.5 171.12 L604.75 171.08 L605 171.36 L605.25 171.4 L605.5 171.18 L605.75 171.15 L606 170.99 L606.25 171.07 L606.5 170.97 L606.75 171.23 L607 171.23 L607.25 170.93 L607.5 171.43 L607.75 171.07 L608 171.38 L608.25 171.38 L608.5 171.45 L608.75 171 L609 171.13 L609.25 171.42 L609.5 170.88 L609.75 170.9 L610 171.21 L610.25 171.17 L610.5 171.42 L610.75 171.33 L611 171.19 L611.25 171.46 L611.5 171.17 L611.75 171.17 L612 171.27 L612.25 171.09 L612.5 171.07 L612.75 171.21 L613 171.07 L613.25 171.42 L613.5 171.26 L613.75 171.17 L614 170.91 L614.25 171.07 L614.5 171.08 L614.75 171.18 L615 171.18 L615.25 171.37 L615.5 171.41 L615.75 171.13 L616 171.1 L616.25 171.2 L616.5 171.42 L616.75 171.03 L617 171.14 L617.25 171.31 L617.5 170.92 L617.75 171 L618 171.4 L618.25 171.3 L618.5 171.11 L618.75 170.87 L619 171.33 L619.25 171.21 L619.5 171.28 L619.75 171.38 L620 171.31 L620.25 171.03 L620.5 170.87 L620.75 170.94 L621 171.07 L621.25 171.06 L621.5 170.87 L621.75 170.86 L622 171.12 L622.25 171.1 L622.5 170.94 L622.75 171.32 L623 171.1 L623.25 170.74 L623.5 170.95 L623.75 171.17 L624 170.88 L624.25 171.1 L624.5 170.68 L624.75 170.85 L625 171.17 L625.25 171 L625.5 171.04 L625.75 170.75 L626 170.92 L626.25 170.94 L626.5 170.76 L626.75 170.98 L627 170.9 L627.25 171.16 L627.5 170.89 L627.75 170.78 L628 170.59 L628.25 170.6 L628.5 170.95 L628.75 170.54 L629 170.51 L629.25 170.54 L629.5 170.73 L629.75 170.89 L630 170.74 L630.25 170.83 L630.5 170.36 L630.75 170.3 L631 170.73 L631.25 170.43 L631.5 170.63 L631.75 170.38 L632 170.23 L632.25 170.25 L632.5 170.1 L632.75 170.54 L633 170.29 L633.25 170.1 L633.5 170.1 L633.75 169.99 L634 169.72 L634.25 170.15 L634.5 169.87 L634.75 170 L635 169.58 L635.25 169.57 L635.5 169.22 L635.75 168.94 L636 169.3 L636.25 169.06 L636.5 168.51 L636.75 168.6 L637 168.25 L637.25 167.59 L637.5 167.36 L637.75 167.08 L638 166.22 L638.25 165.8 L638.5 164.56 L638.75 163.69 L639 162.8 L639.25 161.31 L639.5 160.16 L639.75 159.43 L640 158.45 L640.25 158.38 L640.5 158.31 L640.75 158.96 L641 160.01 L641.25 160.91 L641.5 162.33 L641.75 162.75 L642 163.59 L642.25 163.87 L642.5 164.55 L642.75 164.78 L643 165.02 L643.25 164.98 L643.5 165.11 L643.75 165.6 L644 165.34 L644.25 165.28 L644.5 165.24 L644.75 165.29 L645 165.25 L645.25 165.12 L645.5 165.51 L645.75 165.35 L646 165.29 L646.25 165.69 L646.5 165.42 L646.75 165.65 L647 166.13 L647.25 165.86 L647.5 166.23 L647.75 166.65 L648 166.83 L648.25 166.64 L648.5 166.96 L648.75 167.38 L649 167.37 L649.25 167.91 L649.5 167.64 L649.75 168.27 L650 168.17 L650.25 168.16 L650.5 168.45 L650.75 168.4 L651 168.88 L651.25 168.74 L651.5 169.24 L651.75 169.16 L652 169.13 L652.25 169.16 L652.5 169.46 L652.75 169.31 L653 169.78 L653.25 169.4 L653.5 169.7 L653.75 169.78 L654 169.67 L654.25 170.02 L654.5 169.83 L654.75 170.04 L655 170.02 L655.25 169.9 L655.5 169.98 L655.75 169.83 L656 169.9 L656.25 170.33 L656.5 170.02 L656.75 170.24 L657 169.92 L657.25 170.19 L657.5 170.07 L657.75 170.15 L658 170.01 L658.25 169.86 L658.5 169.98 L658.75 169.9 L659 169.8 L659.25 170.11 L659.5 169.79 L659.75 169.79 L660 170.01 L660.25 169.83 L660.5 169.78 L660.75 169.62 L661 169.01 L661.25 168.89 L661.5 168.49 L661.75 168.57 L662 168.2 L662.25 167.56 L662.5 167.06 L662.75 166.57 L663 165.85 L663.25 164.74 L663.5 164.23 L663.75 163.12 L664 162.66 L664.25 162.12 L664.5 162.21 L664.75 163.2 L665 163.87 L665.25 164.74 L665.5 165.21 L665.75 166.01 L666 166.79 L666.25 167.4 L666.5 167.97 L666.75 168.43 L667 168.57 L667.25 169.03 L667.5 169.47 L667.75 169.4 L668 169.97 L668.25 169.96 L668.5 170.18 L668.75 170.01 L669 170.22 L669.25 170.46 L669.5 170.33 L669.75 170.19 L670 170.75 L670.25 170.77 L670.5 170.52 L670.75 170.42 L671 170.94 L671.25 170.83 L671.5 170.53 L671.75 170.67 L672 170.62 L672.25 171.05 L672.5 170.73 L672.75 171.17" fill="none" stroke="#000" stroke-width="1.4" stroke-linejoin="round"/>
<ellipse cx="208.6" cy="146.8" rx="37.8" ry="79.6" fill="none" stroke="#c8202a" stroke-width="1.6"/>
<line x1="105" y1="330.6" x2="105" y2="350.8" stroke="#16166a" stroke-width="2"/>
<line x1="200.5" y1="225.1" x2="200.5" y2="350.8" stroke="#16166a" stroke-width="2"/>
<line x1="276.3" y1="326.8" x2="276.3" y2="350.8" stroke="#16166a" stroke-width="2"/>
<line x1="341.1" y1="315.8" x2="341.1" y2="350.8" stroke="#16166a" stroke-width="2"/>
<line x1="399.8" y1="343.9" x2="399.8" y2="350.8" stroke="#16166a" stroke-width="2"/>
<line x1="454.3" y1="314.9" x2="454.3" y2="350.8" stroke="#16166a" stroke-width="2"/>
<line x1="554.3" y1="335.2" x2="554.3" y2="350.8" stroke="#16166a" stroke-width="2"/>
<line x1="601.2" y1="348" x2="601.2" y2="350.8" stroke="#16166a" stroke-width="2"/>
<line x1="647.8" y1="339.6" x2="647.8" y2="350.8" stroke="#16166a" stroke-width="2"/>
<line x1="161.6" y1="419.6" x2="161.6" y2="521.4" stroke="#000" stroke-width="2"/>
<line x1="207.3" y1="492.5" x2="207.3" y2="521.4" stroke="#000" stroke-width="2"/>
<line x1="350" y1="476" x2="350" y2="521.4" stroke="#000" stroke-width="2"/>
<line x1="438.8" y1="488" x2="438.8" y2="521.4" stroke="#000" stroke-width="2"/>
<line x1="465.3" y1="514.7" x2="465.3" y2="521.4" stroke="#000" stroke-width="2"/>
<line x1="567.5" y1="515.5" x2="567.5" y2="521.4" stroke="#000" stroke-width="2"/>
<line x1="639.5" y1="511.4" x2="639.5" y2="521.4" stroke="#000" stroke-width="2"/>
<line x1="664" y1="514.5" x2="664" y2="521.4" stroke="#000" stroke-width="2"/>
<rect x="78" y="13" width="595.8" height="508.4" fill="none" stroke="#000" stroke-width="2.2"/>
<line x1="78" y1="350.8" x2="673.8" y2="350.8" stroke="#000" stroke-width="2.4"/>
<text transform="translate(106.9 326) rotate(-90)" font-family="'Liberation Sans', Arial, sans-serif" font-size="16" fill="#000" textLength="38.9" lengthAdjust="spacing">(100)</text>
<text transform="translate(205.2 218) rotate(-90)" font-family="'Liberation Sans', Arial, sans-serif" font-size="16" fill="#000" textLength="38.9" lengthAdjust="spacing">(110)</text>
<text transform="translate(283 313.4) rotate(-90)" font-family="'Liberation Sans', Arial, sans-serif" font-size="16" fill="#000" textLength="38.9" lengthAdjust="spacing">(111)</text>
<text transform="translate(350.5 313.9) rotate(-90)" font-family="'Liberation Sans', Arial, sans-serif" font-size="16" fill="#000" textLength="38.9" lengthAdjust="spacing">(200)</text>
<text transform="translate(404.9 339.2) rotate(-90)" font-family="'Liberation Sans', Arial, sans-serif" font-size="16" fill="#000" textLength="38.9" lengthAdjust="spacing">(210)</text>
<text transform="translate(560.1 326) rotate(-90)" font-family="'Liberation Sans', Arial, sans-serif" font-size="16" fill="#000" textLength="38.9" lengthAdjust="spacing">(220)</text>
<text transform="translate(653.8 338.2) rotate(-90)" font-family="'Liberation Sans', Arial, sans-serif" font-size="16" fill="#000" textLength="38.9" lengthAdjust="spacing">(310)</text>
<text transform="translate(168.8 417.4) rotate(-90)" font-family="'Liberation Sans', Arial, sans-serif" font-size="16" fill="#000" textLength="38.9" lengthAdjust="spacing">(111)</text>
<text transform="translate(214 480.2) rotate(-90)" font-family="'Liberation Sans', Arial, sans-serif" font-size="16" fill="#000" textLength="38.9" lengthAdjust="spacing">(200)</text>
<text transform="translate(356.4 467.4) rotate(-90)" font-family="'Liberation Sans', Arial, sans-serif" font-size="16" fill="#000" textLength="38.9" lengthAdjust="spacing">(220)</text>
<text transform="translate(445.4 482.6) rotate(-90)" font-family="'Liberation Sans', Arial, sans-serif" font-size="16" fill="#000" textLength="38.9" lengthAdjust="spacing">(311)</text>
<text transform="translate(472.3 508.7) rotate(-90)" font-family="'Liberation Sans', Arial, sans-serif" font-size="16" fill="#000" textLength="38.9" lengthAdjust="spacing">(222)</text>
<text transform="translate(574.8 508.7) rotate(-90)" font-family="'Liberation Sans', Arial, sans-serif" font-size="16" fill="#000" textLength="38.9" lengthAdjust="spacing">(400)</text>
<text transform="translate(642.2 509.8) rotate(-90)" font-family="'Liberation Sans', Arial, sans-serif" font-size="16" fill="#000" textLength="38.9" lengthAdjust="spacing">(331)</text>
<text transform="translate(666.2 509.8) rotate(-90)" font-family="'Liberation Sans', Arial, sans-serif" font-size="16" fill="#000" textLength="38.9" lengthAdjust="spacing">(420)</text>
<text x="157.2" y="42.2" font-family="'Liberation Sans', Arial, sans-serif" font-size="24.6" fill="#000" transform="translate(157.2 0) scale(0.9243 1) translate(-157.2 0)">La<tspan dy="5.8">0.33</tspan><tspan dy="-5.8">Sr</tspan><tspan dy="5.8">0.67</tspan><tspan dy="-5.8">Cr</tspan><tspan dy="5.8">0.33</tspan><tspan dy="-5.8">Fe</tspan><tspan dy="5.8">0.67</tspan><tspan dy="-5.8">O</tspan><tspan dy="5.8">3-δ</tspan><tspan dy="-5.8">-Ce</tspan><tspan dy="5.8">0.9</tspan><tspan dy="-5.8">Gd</tspan><tspan dy="5.8">0.1</tspan><tspan dy="-5.8">O</tspan><tspan dy="5.8">2-δ</tspan></text>
<text x="432.5" y="224.6" font-family="'Liberation Sans', Arial, sans-serif" font-size="23" fill="#000" transform="translate(432.5 0) scale(0.9936 1) translate(-432.5 0)">LaCrO<tspan dy="5.3">3</tspan><tspan dy="-5.3"> PDF 75-0288</tspan></text>
<text x="332.8" y="401.4" font-family="'Liberation Sans', Arial, sans-serif" font-size="23" fill="#000" transform="translate(332.8 0) scale(0.9864 1) translate(-332.8 0)">Ce<tspan dy="5.4">0.9</tspan><tspan dy="-5.4">Gd</tspan><tspan dy="5.4">0.1</tspan><tspan dy="-5.4">O</tspan><tspan dy="5.4">1.95</tspan><tspan dy="-5.4"> PDF 75-0161</tspan></text>
<text x="76.4" y="545.3" font-family="'Liberation Sans', Arial, sans-serif" font-size="19.8" text-anchor="middle" fill="#000">20</text>
<text x="175.7" y="545.3" font-family="'Liberation Sans', Arial, sans-serif" font-size="19.8" text-anchor="middle" fill="#000">30</text>
<text x="275" y="545.3" font-family="'Liberation Sans', Arial, sans-serif" font-size="19.8" text-anchor="middle" fill="#000">40</text>
<text x="374.3" y="545.3" font-family="'Liberation Sans', Arial, sans-serif" font-size="19.8" text-anchor="middle" fill="#000">50</text>
<text x="473.6" y="545.3" font-family="'Liberation Sans', Arial, sans-serif" font-size="19.8" text-anchor="middle" fill="#000">60</text>
<text x="572.9" y="545.3" font-family="'Liberation Sans', Arial, sans-serif" font-size="19.8" text-anchor="middle" fill="#000">70</text>
<text x="672.2" y="545.3" font-family="'Liberation Sans', Arial, sans-serif" font-size="19.8" text-anchor="middle" fill="#000">80</text>
<text x="337.5" y="582.6" font-family="'Liberation Sans', Arial, sans-serif" font-size="23" fill="#000" transform="translate(337.5 0) scale(1.0954 1) translate(-337.5 0)">2<tspan font-family="'Liberation Serif', 'Times New Roman', serif">θ</tspan>/<tspan font-family="'Liberation Serif', 'Times New Roman', serif">(°)</tspan></text>
<text transform="translate(47.1 273.2) rotate(-90)" font-family="'Liberation Sans', Arial, sans-serif" font-size="23.2" text-anchor="middle" fill="#000">Intensity / a.u.</text>
</g>
<g id="mid">
<line x1="699" y1="16" x2="699" y2="395" stroke="#000" stroke-width="3.3"/>
<polyline points="693.2,26.2 699,15.2 704.8,26.2" fill="none" stroke="#000" stroke-width="3.3" stroke-linecap="round" stroke-linejoin="miter"/>
<polyline points="693.2,385 699,396 704.8,385" fill="none" stroke="#000" stroke-width="3.3" stroke-linecap="round" stroke-linejoin="miter"/>
<line x1="885.5" y1="26.1" x2="930.1" y2="86.2" stroke="#909090" stroke-width="4.6"/>
<line x1="885.5" y1="26.1" x2="930.1" y2="86.2" stroke="#ececec" stroke-width="2.2"/>
<line x1="930.1" y1="86.2" x2="826.2" y2="143.1" stroke="#909090" stroke-width="4.6"/>
<line x1="930.1" y1="86.2" x2="826.2" y2="143.1" stroke="#ececec" stroke-width="2.2"/>
<line x1="930.1" y1="86.2" x2="908" y2="203.7" stroke="#909090" stroke-width="4.6"/>
<line x1="930.1" y1="86.2" x2="908" y2="203.7" stroke="#ececec" stroke-width="2.2"/>
<line x1="826.2" y1="143.1" x2="834" y2="218" stroke="#909090" stroke-width="4.6"/>
<line x1="826.2" y1="143.1" x2="834" y2="218" stroke="#ececec" stroke-width="2.2"/>
<line x1="826.2" y1="143.1" x2="802" y2="261" stroke="#909090" stroke-width="4.6"/>
<line x1="826.2" y1="143.1" x2="802" y2="261" stroke="#ececec" stroke-width="2.2"/>
<line x1="826.2" y1="143.1" x2="908" y2="203.7" stroke="#909090" stroke-width="4.6"/>
<line x1="826.2" y1="143.1" x2="908" y2="203.7" stroke="#ececec" stroke-width="2.2"/>
<line x1="878.4" y1="155.4" x2="939.8" y2="160.6" stroke="#6a6a6a" stroke-width="4.2"/>
<line x1="878.4" y1="155.4" x2="939.8" y2="160.6" stroke="#a8a8a8" stroke-width="1.4"/>
<line x1="975" y1="161.9" x2="767" y2="259.8" stroke="#909090" stroke-width="4.6"/>
<line x1="975" y1="161.9" x2="767" y2="259.8" stroke="#ececec" stroke-width="2.2"/>
<line x1="939.8" y1="160.6" x2="834" y2="218" stroke="#909090" stroke-width="4.6"/>
<line x1="939.8" y1="160.6" x2="834" y2="218" stroke="#ececec" stroke-width="2.2"/>
<line x1="908" y1="203.7" x2="915.8" y2="277.8" stroke="#909090" stroke-width="4.6"/>
<line x1="908" y1="203.7" x2="915.8" y2="277.8" stroke="#ececec" stroke-width="2.2"/>
<line x1="939.8" y1="160.6" x2="915.8" y2="277.8" stroke="#909090" stroke-width="4.6"/>
<line x1="939.8" y1="160.6" x2="915.8" y2="277.8" stroke="#ececec" stroke-width="2.2"/>
<line x1="834" y1="218" x2="915.8" y2="277.8" stroke="#909090" stroke-width="4.6"/>
<line x1="834" y1="218" x2="915.8" y2="277.8" stroke="#ececec" stroke-width="2.2"/>
<line x1="802" y1="261" x2="864" y2="266.8" stroke="#6a6a6a" stroke-width="4.2"/>
<line x1="802" y1="261" x2="864" y2="266.8" stroke="#a8a8a8" stroke-width="1.4"/>
<line x1="915.8" y1="277.8" x2="811.6" y2="335.9" stroke="#909090" stroke-width="4.6"/>
<line x1="915.8" y1="277.8" x2="811.6" y2="335.9" stroke="#ececec" stroke-width="2.2"/>
<line x1="811.6" y1="335.9" x2="856.7" y2="394.7" stroke="#909090" stroke-width="4.6"/>
<line x1="811.6" y1="335.9" x2="856.7" y2="394.7" stroke="#ececec" stroke-width="2.2"/>
<line x1="834" y1="218" x2="811.6" y2="335.9" stroke="#909090" stroke-width="4.6"/>
<line x1="834" y1="218" x2="811.6" y2="335.9" stroke="#ececec" stroke-width="2.2"/>
<circle cx="885.5" cy="26.1" r="9" fill="url(#sph_b)"/>
<ellipse cx="882.8" cy="22.5" rx="1.62" ry="1.08" fill="#fff" opacity="0.85" transform="rotate(-30 882.8 22.5)"/>
<ellipse cx="889.1" cy="30.15" rx="1.08" ry="0.63" fill="#fff" opacity="0.35" transform="rotate(-30 889.1 30.15)"/>
<circle cx="930.1" cy="86.2" r="21" fill="url(#sph_r)"/>
<ellipse cx="923.8" cy="77.8" rx="3.78" ry="2.52" fill="#fff" opacity="0.85" transform="rotate(-30 923.8 77.8)"/>
<ellipse cx="938.5" cy="95.65" rx="2.52" ry="1.47" fill="#fff" opacity="0.35" transform="rotate(-30 938.5 95.65)"/>
<circle cx="826.2" cy="143.1" r="23.5" fill="url(#sph_g)"/>
<ellipse cx="819.15" cy="133.7" rx="4.23" ry="2.82" fill="#fff" opacity="0.85" transform="rotate(-30 819.15 133.7)"/>
<ellipse cx="835.6" cy="153.67" rx="2.82" ry="1.65" fill="#fff" opacity="0.35" transform="rotate(-30 835.6 153.67)"/>
<circle cx="878.4" cy="155.4" r="9" fill="url(#sph_b)"/>
<ellipse cx="875.7" cy="151.8" rx="1.62" ry="1.08" fill="#fff" opacity="0.85" transform="rotate(-30 875.7 151.8)"/>
<ellipse cx="882" cy="159.45" rx="1.08" ry="0.63" fill="#fff" opacity="0.35" transform="rotate(-30 882 159.45)"/>
<circle cx="939.8" cy="160.6" r="21" fill="url(#sph_r)"/>
<ellipse cx="933.5" cy="152.2" rx="3.78" ry="2.52" fill="#fff" opacity="0.85" transform="rotate(-30 933.5 152.2)"/>
<ellipse cx="948.2" cy="170.05" rx="2.52" ry="1.47" fill="#fff" opacity="0.35" transform="rotate(-30 948.2 170.05)"/>
<circle cx="975" cy="161.9" r="9" fill="url(#sph_b)"/>
<ellipse cx="972.3" cy="158.3" rx="1.62" ry="1.08" fill="#fff" opacity="0.85" transform="rotate(-30 972.3 158.3)"/>
<ellipse cx="978.6" cy="165.95" rx="1.08" ry="0.63" fill="#fff" opacity="0.35" transform="rotate(-30 978.6 165.95)"/>
<circle cx="908" cy="203.7" r="21" fill="url(#sph_r)"/>
<ellipse cx="901.7" cy="195.3" rx="3.78" ry="2.52" fill="#fff" opacity="0.85" transform="rotate(-30 901.7 195.3)"/>
<ellipse cx="916.4" cy="213.15" rx="2.52" ry="1.47" fill="#fff" opacity="0.35" transform="rotate(-30 916.4 213.15)"/>
<circle cx="834" cy="218" r="21" fill="url(#sph_r)"/>
<ellipse cx="827.7" cy="209.6" rx="3.78" ry="2.52" fill="#fff" opacity="0.85" transform="rotate(-30 827.7 209.6)"/>
<ellipse cx="842.4" cy="227.45" rx="2.52" ry="1.47" fill="#fff" opacity="0.35" transform="rotate(-30 842.4 227.45)"/>
<circle cx="802" cy="261" r="21" fill="url(#sph_r)"/>
<ellipse cx="795.7" cy="252.6" rx="3.78" ry="2.52" fill="#fff" opacity="0.85" transform="rotate(-30 795.7 252.6)"/>
<ellipse cx="810.4" cy="270.45" rx="2.52" ry="1.47" fill="#fff" opacity="0.35" transform="rotate(-30 810.4 270.45)"/>
<circle cx="767" cy="259.8" r="9" fill="url(#sph_b)"/>
<ellipse cx="764.3" cy="256.2" rx="1.62" ry="1.08" fill="#fff" opacity="0.85" transform="rotate(-30 764.3 256.2)"/>
<ellipse cx="770.6" cy="263.85" rx="1.08" ry="0.63" fill="#fff" opacity="0.35" transform="rotate(-30 770.6 263.85)"/>
<circle cx="864" cy="266.8" r="9" fill="url(#sph_b)"/>
<ellipse cx="861.3" cy="263.2" rx="1.62" ry="1.08" fill="#fff" opacity="0.85" transform="rotate(-30 861.3 263.2)"/>
<ellipse cx="867.6" cy="270.85" rx="1.08" ry="0.63" fill="#fff" opacity="0.35" transform="rotate(-30 867.6 270.85)"/>
<circle cx="915.8" cy="277.8" r="23.5" fill="url(#sph_g)"/>
<ellipse cx="908.75" cy="268.4" rx="4.23" ry="2.82" fill="#fff" opacity="0.85" transform="rotate(-30 908.75 268.4)"/>
<ellipse cx="925.2" cy="288.38" rx="2.82" ry="1.65" fill="#fff" opacity="0.35" transform="rotate(-30 925.2 288.38)"/>
<circle cx="811.6" cy="335.9" r="21" fill="url(#sph_r)"/>
<ellipse cx="805.3" cy="327.5" rx="3.78" ry="2.52" fill="#fff" opacity="0.85" transform="rotate(-30 805.3 327.5)"/>
<ellipse cx="820" cy="345.35" rx="2.52" ry="1.47" fill="#fff" opacity="0.35" transform="rotate(-30 820 345.35)"/>
<circle cx="856.7" cy="394.7" r="9" fill="url(#sph_b)"/>
<ellipse cx="854" cy="391.1" rx="1.62" ry="1.08" fill="#fff" opacity="0.85" transform="rotate(-30 854 391.1)"/>
<ellipse cx="860.3" cy="398.75" rx="1.08" ry="0.63" fill="#fff" opacity="0.35" transform="rotate(-30 860.3 398.75)"/>
<g transform="translate(755 0) scale(1.0073 1) translate(-755 0)"><text font-family="'Liberation Serif', 'Times New Roman', serif" font-size="35.3" fill="#000"><tspan x="755" y="464">Elongation along <tspan font-style="italic">z</tspan>-</tspan><tspan x="755" y="505.6">axis in LaCoO<tspan dy="6" font-size="23.5">3</tspan></tspan><tspan x="755" y="547.5">perovskite</tspan></text></g>
</g>
<g id="wh">
<g id="inset">
<text x="1546.8" y="255.7" font-family="'Liberation Serif', 'Times New Roman', serif" font-size="20.1" fill="#000" transform="translate(1546.8 0) scale(1.0585 1) translate(-1546.8 0)">LaCoO<tspan dy="3.8" font-size="13.6">3</tspan><tspan dy="-3.8">–CeO</tspan><tspan dy="3.8" font-size="13.6">2</tspan><tspan dy="-3.8"> composite</tspan></text>
<line x1="1520.6" y1="279.4" x2="1562.9" y2="286.4" stroke="#1a1a1a" stroke-width="1.6"/>
<line x1="1562.9" y1="286.4" x2="1600.5" y2="287.6" stroke="#1a1a1a" stroke-width="1.6"/>
<line x1="1600.5" y1="287.6" x2="1641.6" y2="293.5" stroke="#1a1a1a" stroke-width="1.6"/>
<line x1="1641.6" y1="293.5" x2="1680.4" y2="294.7" stroke="#1a1a1a" stroke-width="1.6"/>
<line x1="1680.4" y1="294.7" x2="1721.5" y2="300.5" stroke="#1a1a1a" stroke-width="1.6"/>
<line x1="1526.4" y1="317" x2="1567.6" y2="325.2" stroke="#1a1a1a" stroke-width="1.6"/>
<line x1="1567.6" y1="325.2" x2="1606.3" y2="325.2" stroke="#1a1a1a" stroke-width="1.6"/>
<line x1="1606.3" y1="325.2" x2="1647.5" y2="332.3" stroke="#1a1a1a" stroke-width="1.6"/>
<line x1="1647.5" y1="332.3" x2="1686.2" y2="332.3" stroke="#1a1a1a" stroke-width="1.6"/>
<line x1="1686.2" y1="332.3" x2="1727.4" y2="340.5" stroke="#1a1a1a" stroke-width="1.6"/>
<line x1="1539.4" y1="358.1" x2="1581.7" y2="365.2" stroke="#1a1a1a" stroke-width="1.6"/>
<line x1="1581.7" y1="365.2" x2="1619.3" y2="365.2" stroke="#1a1a1a" stroke-width="1.6"/>
<line x1="1619.3" y1="365.2" x2="1660.4" y2="372.2" stroke="#1a1a1a" stroke-width="1.6"/>
<line x1="1660.4" y1="372.2" x2="1699.2" y2="373.4" stroke="#1a1a1a" stroke-width="1.6"/>
<line x1="1699.2" y1="373.4" x2="1741.5" y2="380.4" stroke="#1a1a1a" stroke-width="1.6"/>
<line x1="1545.2" y1="395.7" x2="1586.4" y2="404" stroke="#1a1a1a" stroke-width="1.6"/>
<line x1="1586.4" y1="404" x2="1624" y2="404" stroke="#1a1a1a" stroke-width="1.6"/>
<line x1="1624" y1="404" x2="1666.3" y2="412.2" stroke="#1a1a1a" stroke-width="1.6"/>
<line x1="1666.3" y1="412.2" x2="1705" y2="411" stroke="#1a1a1a" stroke-width="1.6"/>
<line x1="1705" y1="411" x2="1746.2" y2="419.2" stroke="#1a1a1a" stroke-width="1.6"/>
<line x1="1558.2" y1="436.8" x2="1599.3" y2="443.9" stroke="#1a1a1a" stroke-width="1.6"/>
<line x1="1599.3" y1="443.9" x2="1638.1" y2="443.9" stroke="#1a1a1a" stroke-width="1.6"/>
<line x1="1638.1" y1="443.9" x2="1680.4" y2="451" stroke="#1a1a1a" stroke-width="1.6"/>
<line x1="1680.4" y1="451" x2="1718" y2="452.1" stroke="#1a1a1a" stroke-width="1.6"/>
<line x1="1718" y1="452.1" x2="1760.3" y2="458" stroke="#1a1a1a" stroke-width="1.6"/>
<line x1="1564" y1="474.4" x2="1605.2" y2="482.7" stroke="#1a1a1a" stroke-width="1.6"/>
<line x1="1605.2" y1="482.7" x2="1643.9" y2="482.7" stroke="#1a1a1a" stroke-width="1.6"/>
<line x1="1643.9" y1="482.7" x2="1686.2" y2="490.9" stroke="#1a1a1a" stroke-width="1.6"/>
<line x1="1686.2" y1="490.9" x2="1723.8" y2="490.9" stroke="#1a1a1a" stroke-width="1.6"/>
<line x1="1723.8" y1="490.9" x2="1766.1" y2="497.9" stroke="#1a1a1a" stroke-width="1.6"/>
<line x1="1520.6" y1="279.4" x2="1526.4" y2="317" stroke="#1a1a1a" stroke-width="1.6"/>
<line x1="1526.4" y1="317" x2="1539.4" y2="358.1" stroke="#1a1a1a" stroke-width="1.6"/>
<line x1="1539.4" y1="358.1" x2="1545.2" y2="395.7" stroke="#1a1a1a" stroke-width="1.6"/>
<line x1="1545.2" y1="395.7" x2="1558.2" y2="436.8" stroke="#1a1a1a" stroke-width="1.6"/>
<line x1="1558.2" y1="436.8" x2="1564" y2="474.4" stroke="#1a1a1a" stroke-width="1.6"/>
<line x1="1562.9" y1="286.4" x2="1567.6" y2="325.2" stroke="#1a1a1a" stroke-width="1.6"/>
<line x1="1567.6" y1="325.2" x2="1581.7" y2="365.2" stroke="#1a1a1a" stroke-width="1.6"/>
<line x1="1581.7" y1="365.2" x2="1586.4" y2="404" stroke="#1a1a1a" stroke-width="1.6"/>
<line x1="1586.4" y1="404" x2="1599.3" y2="443.9" stroke="#1a1a1a" stroke-width="1.6"/>
<line x1="1599.3" y1="443.9" x2="1605.2" y2="482.7" stroke="#1a1a1a" stroke-width="1.6"/>
<line x1="1600.5" y1="287.6" x2="1606.3" y2="325.2" stroke="#1a1a1a" stroke-width="1.6"/>
<line x1="1606.3" y1="325.2" x2="1619.3" y2="365.2" stroke="#1a1a1a" stroke-width="1.6"/>
<line x1="1619.3" y1="365.2" x2="1624" y2="404" stroke="#1a1a1a" stroke-width="1.6"/>
<line x1="1624" y1="404" x2="1638.1" y2="443.9" stroke="#1a1a1a" stroke-width="1.6"/>
<line x1="1638.1" y1="443.9" x2="1643.9" y2="482.7" stroke="#1a1a1a" stroke-width="1.6"/>
<line x1="1641.6" y1="293.5" x2="1647.5" y2="332.3" stroke="#1a1a1a" stroke-width="1.6"/>
<line x1="1647.5" y1="332.3" x2="1660.4" y2="372.2" stroke="#1a1a1a" stroke-width="1.6"/>
<line x1="1660.4" y1="372.2" x2="1666.3" y2="412.2" stroke="#1a1a1a" stroke-width="1.6"/>
<line x1="1666.3" y1="412.2" x2="1680.4" y2="451" stroke="#1a1a1a" stroke-width="1.6"/>
<line x1="1680.4" y1="451" x2="1686.2" y2="490.9" stroke="#1a1a1a" stroke-width="1.6"/>
<line x1="1680.4" y1="294.7" x2="1686.2" y2="332.3" stroke="#1a1a1a" stroke-width="1.6"/>
<line x1="1686.2" y1="332.3" x2="1699.2" y2="373.4" stroke="#1a1a1a" stroke-width="1.6"/>
<line x1="1699.2" y1="373.4" x2="1705" y2="411" stroke="#1a1a1a" stroke-width="1.6"/>
<line x1="1705" y1="411" x2="1718" y2="452.1" stroke="#1a1a1a" stroke-width="1.6"/>
<line x1="1718" y1="452.1" x2="1723.8" y2="490.9" stroke="#1a1a1a" stroke-width="1.6"/>
<line x1="1721.5" y1="300.5" x2="1727.4" y2="340.5" stroke="#1a1a1a" stroke-width="1.6"/>
<line x1="1727.4" y1="340.5" x2="1741.5" y2="380.4" stroke="#1a1a1a" stroke-width="1.6"/>
<line x1="1741.5" y1="380.4" x2="1746.2" y2="419.2" stroke="#1a1a1a" stroke-width="1.6"/>
<line x1="1746.2" y1="419.2" x2="1760.3" y2="458" stroke="#1a1a1a" stroke-width="1.6"/>
<line x1="1760.3" y1="458" x2="1766.1" y2="497.9" stroke="#1a1a1a" stroke-width="1.6"/>
<line x1="1544" y1="301.2" x2="1520.6" y2="279.4" stroke="#1a1a1a" stroke-width="1.6"/>
<line x1="1544" y1="301.2" x2="1562.9" y2="286.4" stroke="#1a1a1a" stroke-width="1.6"/>
<line x1="1544" y1="301.2" x2="1526.4" y2="317" stroke="#1a1a1a" stroke-width="1.6"/>
<line x1="1544" y1="301.2" x2="1567.6" y2="325.2" stroke="#1a1a1a" stroke-width="1.6"/>
<line x1="1624.4" y1="308.8" x2="1600.5" y2="287.6" stroke="#1a1a1a" stroke-width="1.6"/>
<line x1="1624.4" y1="308.8" x2="1641.6" y2="293.5" stroke="#1a1a1a" stroke-width="1.6"/>
<line x1="1624.4" y1="308.8" x2="1606.3" y2="325.2" stroke="#1a1a1a" stroke-width="1.6"/>
<line x1="1624.4" y1="308.8" x2="1647.5" y2="332.3" stroke="#1a1a1a" stroke-width="1.6"/>
<line x1="1704.3" y1="317" x2="1680.4" y2="294.7" stroke="#1a1a1a" stroke-width="1.6"/>
<line x1="1704.3" y1="317" x2="1721.5" y2="300.5" stroke="#1a1a1a" stroke-width="1.6"/>
<line x1="1704.3" y1="317" x2="1686.2" y2="332.3" stroke="#1a1a1a" stroke-width="1.6"/>
<line x1="1704.3" y1="317" x2="1727.4" y2="340.5" stroke="#1a1a1a" stroke-width="1.6"/>
<line x1="1564" y1="379.3" x2="1539.4" y2="358.1" stroke="#1a1a1a" stroke-width="1.6"/>
<line x1="1564" y1="379.3" x2="1581.7" y2="365.2" stroke="#1a1a1a" stroke-width="1.6"/>
<line x1="1564" y1="379.3" x2="1545.2" y2="395.7" stroke="#1a1a1a" stroke-width="1.6"/>
<line x1="1564" y1="379.3" x2="1586.4" y2="404" stroke="#1a1a1a" stroke-width="1.6"/>
<line x1="1643.2" y1="386.3" x2="1619.3" y2="365.2" stroke="#1a1a1a" stroke-width="1.6"/>
<line x1="1643.2" y1="386.3" x2="1660.4" y2="372.2" stroke="#1a1a1a" stroke-width="1.6"/>
<line x1="1643.2" y1="386.3" x2="1624" y2="404" stroke="#1a1a1a" stroke-width="1.6"/>
<line x1="1643.2" y1="386.3" x2="1666.3" y2="412.2" stroke="#1a1a1a" stroke-width="1.6"/>
<line x1="1723.4" y1="395.7" x2="1699.2" y2="373.4" stroke="#1a1a1a" stroke-width="1.6"/>
<line x1="1723.4" y1="395.7" x2="1741.5" y2="380.4" stroke="#1a1a1a" stroke-width="1.6"/>
<line x1="1723.4" y1="395.7" x2="1705" y2="411" stroke="#1a1a1a" stroke-width="1.6"/>
<line x1="1723.4" y1="395.7" x2="1746.2" y2="419.2" stroke="#1a1a1a" stroke-width="1.6"/>
<line x1="1582.8" y1="458" x2="1558.2" y2="436.8" stroke="#1a1a1a" stroke-width="1.6"/>
<line x1="1582.8" y1="458" x2="1599.3" y2="443.9" stroke="#1a1a1a" stroke-width="1.6"/>
<line x1="1582.8" y1="458" x2="1564" y2="474.4" stroke="#1a1a1a" stroke-width="1.6"/>
<line x1="1582.8" y1="458" x2="1605.2" y2="482.7" stroke="#1a1a1a" stroke-width="1.6"/>
<line x1="1662.7" y1="465.7" x2="1638.1" y2="443.9" stroke="#1a1a1a" stroke-width="1.6"/>
<line x1="1662.7" y1="465.7" x2="1680.4" y2="451" stroke="#1a1a1a" stroke-width="1.6"/>
<line x1="1662.7" y1="465.7" x2="1643.9" y2="482.7" stroke="#1a1a1a" stroke-width="1.6"/>
<line x1="1662.7" y1="465.7" x2="1686.2" y2="490.9" stroke="#1a1a1a" stroke-width="1.6"/>
<line x1="1742.6" y1="474.4" x2="1718" y2="452.1" stroke="#1a1a1a" stroke-width="1.6"/>
<line x1="1742.6" y1="474.4" x2="1760.3" y2="458" stroke="#1a1a1a" stroke-width="1.6"/>
<line x1="1742.6" y1="474.4" x2="1723.8" y2="490.9" stroke="#1a1a1a" stroke-width="1.6"/>
<line x1="1742.6" y1="474.4" x2="1766.1" y2="497.9" stroke="#1a1a1a" stroke-width="1.6"/>
<polygon points="1594.6,338 1689.8,338 1694.5,438 1605.2,438" fill="#b82020" opacity="0.55"/>
<polygon points="1600,345 1680,350 1688,430 1612,428" fill="#d03030" opacity="0.35"/>
<path d="M1594.6,338 L1694.5,438 M1689.8,338 L1605.2,438 M1642,338 L1650,438 M1594.6,388 L1692,388" stroke="#f0b0b0" stroke-width="0.8" opacity="0.7"/>
<circle cx="1644" cy="339.3" r="7.5" fill="url(#sph_y)"/>
<circle cx="1602" cy="441" r="7.5" fill="url(#sph_y)"/>
<circle cx="1523.1" cy="277.9" r="8.5" fill="url(#sph_r)"/>
<circle cx="1520.6" cy="279.4" r="9.2" fill="url(#sph_g2)"/>
<circle cx="1562.9" cy="286.4" r="9.2" fill="url(#sph_r)"/>
<circle cx="1603" cy="286.1" r="8.5" fill="url(#sph_r)"/>
<circle cx="1600.5" cy="287.6" r="9.2" fill="url(#sph_g2)"/>
<circle cx="1641.6" cy="293.5" r="9.2" fill="url(#sph_r)"/>
<circle cx="1682.9" cy="293.2" r="8.5" fill="url(#sph_r)"/>
<circle cx="1680.4" cy="294.7" r="9.2" fill="url(#sph_g2)"/>
<circle cx="1721.5" cy="300.5" r="9.2" fill="url(#sph_r)"/>
<circle cx="1526.4" cy="317" r="9.2" fill="url(#sph_r)"/>
<circle cx="1571.1" cy="323.7" r="8.8" fill="url(#sph_g2)"/>
<circle cx="1567.6" cy="325.2" r="9.2" fill="url(#sph_r)"/>
<circle cx="1606.3" cy="325.2" r="9.2" fill="url(#sph_r)"/>
<circle cx="1651" cy="330.8" r="8.8" fill="url(#sph_g2)"/>
<circle cx="1647.5" cy="332.3" r="9.2" fill="url(#sph_r)"/>
<circle cx="1686.2" cy="332.3" r="9.2" fill="url(#sph_r)"/>
<circle cx="1730.9" cy="339" r="8.8" fill="url(#sph_g2)"/>
<circle cx="1727.4" cy="340.5" r="9.2" fill="url(#sph_r)"/>
<circle cx="1541.9" cy="356.6" r="8.5" fill="url(#sph_r)"/>
<circle cx="1539.4" cy="358.1" r="9.2" fill="url(#sph_g2)"/>
<circle cx="1581.7" cy="365.2" r="9.2" fill="url(#sph_r)"/>
<circle cx="1621.8" cy="363.7" r="8.5" fill="url(#sph_r)"/>
<circle cx="1619.3" cy="365.2" r="9.2" fill="url(#sph_g2)"/>
<circle cx="1660.4" cy="372.2" r="9.2" fill="url(#sph_r)"/>
<circle cx="1701.7" cy="371.9" r="8.5" fill="url(#sph_r)"/>
<circle cx="1699.2" cy="373.4" r="9.2" fill="url(#sph_g2)"/>
<circle cx="1741.5" cy="380.4" r="9.2" fill="url(#sph_r)"/>
<circle cx="1545.2" cy="395.7" r="9.2" fill="url(#sph_r)"/>
<circle cx="1589.9" cy="402.5" r="8.8" fill="url(#sph_g2)"/>
<circle cx="1586.4" cy="404" r="9.2" fill="url(#sph_r)"/>
<circle cx="1624" cy="404" r="9.2" fill="url(#sph_r)"/>
<circle cx="1666.3" cy="412.2" r="9.2" fill="url(#sph_r)"/>
<circle cx="1705" cy="411" r="9.2" fill="url(#sph_r)"/>
<circle cx="1749.7" cy="417.7" r="8.8" fill="url(#sph_g2)"/>
<circle cx="1746.2" cy="419.2" r="9.2" fill="url(#sph_r)"/>
<circle cx="1560.7" cy="435.3" r="8.5" fill="url(#sph_r)"/>
<circle cx="1558.2" cy="436.8" r="9.2" fill="url(#sph_g2)"/>
<circle cx="1599.3" cy="443.9" r="9.2" fill="url(#sph_r)"/>
<circle cx="1640.6" cy="442.4" r="8.5" fill="url(#sph_r)"/>
<circle cx="1638.1" cy="443.9" r="9.2" fill="url(#sph_g2)"/>
<circle cx="1680.4" cy="451" r="9.2" fill="url(#sph_r)"/>
<circle cx="1720.5" cy="450.6" r="8.5" fill="url(#sph_r)"/>
<circle cx="1718" cy="452.1" r="9.2" fill="url(#sph_g2)"/>
<circle cx="1760.3" cy="458" r="9.2" fill="url(#sph_r)"/>
<circle cx="1564" cy="474.4" r="9.2" fill="url(#sph_r)"/>
<circle cx="1608.7" cy="481.2" r="8.8" fill="url(#sph_g2)"/>
<circle cx="1605.2" cy="482.7" r="9.2" fill="url(#sph_r)"/>
<circle cx="1643.9" cy="482.7" r="9.2" fill="url(#sph_r)"/>
<circle cx="1689.7" cy="489.4" r="8.8" fill="url(#sph_g2)"/>
<circle cx="1686.2" cy="490.9" r="9.2" fill="url(#sph_r)"/>
<circle cx="1723.8" cy="490.9" r="9.2" fill="url(#sph_r)"/>
<circle cx="1769.6" cy="496.4" r="8.8" fill="url(#sph_g2)"/>
<circle cx="1766.1" cy="497.9" r="9.2" fill="url(#sph_r)"/>
<circle cx="1544" cy="301.2" r="3.2" fill="#1010b0"/>
<circle cx="1624.4" cy="308.8" r="3.2" fill="#1010b0"/>
<circle cx="1704.3" cy="317" r="3.2" fill="#1010b0"/>
<circle cx="1564" cy="379.3" r="3.2" fill="#1010b0"/>
<circle cx="1643.2" cy="386.3" r="3.2" fill="#1010b0"/>
<circle cx="1723.4" cy="395.7" r="3.2" fill="#1010b0"/>
<circle cx="1582.8" cy="458" r="3.2" fill="#1010b0"/>
<circle cx="1662.7" cy="465.7" r="3.2" fill="#1010b0"/>
<circle cx="1742.6" cy="474.4" r="3.2" fill="#1010b0"/>
<circle cx="1592.2" cy="334.6" r="7.5" fill="url(#sph_y)"/>
<circle cx="1601.6" cy="348.7" r="7.5" fill="url(#sph_y)"/>
<circle cx="1694.5" cy="346.4" r="7.5" fill="url(#sph_y)"/>
<circle cx="1595.8" cy="388.7" r="7.5" fill="url(#sph_y)"/>
<circle cx="1648.6" cy="394.5" r="7.5" fill="url(#sph_y)"/>
<circle cx="1691" cy="387.5" r="7.5" fill="url(#sph_y)"/>
<circle cx="1591" cy="427.4" r="7.5" fill="url(#sph_y)"/>
<circle cx="1694.5" cy="439.2" r="7.5" fill="url(#sph_y)"/>
<circle cx="1766.1" cy="277.7" r="3.6" fill="url(#sph_y)"/>
<text x="1772" y="280" font-family="'Liberation Sans', Arial, sans-serif" font-size="4.5" fill="#333">Ce</text>
<polygon points="1766,287 1770,295 1762,295" fill="#c01010"/>
<text x="1772" y="293" font-family="'Liberation Sans', Arial, sans-serif" font-size="4.5" fill="#333">O</text>
<line x1="1528.8" y1="482.7" x2="1528.8" y2="461" stroke="#2a9a2a" stroke-width="1"/>
<line x1="1528.8" y1="482.7" x2="1548.7" y2="482.7" stroke="#e02020" stroke-width="1"/>
<text x="1526.5" y="460" font-family="'Liberation Sans', Arial, sans-serif" font-size="5" fill="#333">Y</text>
<text x="1551" y="485" font-family="'Liberation Sans', Arial, sans-serif" font-size="5" fill="#333">X</text>
</g>
<rect x="1155.7" y="4.4" width="635.9" height="511.5" fill="none" stroke="#000" stroke-width="2.2"/>
<line x1="1155.7" y1="55.55" x2="1165.7" y2="55.55" stroke="#000" stroke-width="2"/>
<text x="1144.6" y="61.15" font-family="'Liberation Sans', Arial, sans-serif" font-size="23.8" text-anchor="end" fill="#000" transform="translate(1144.6 0) scale(0.9421 1) translate(-1144.6 0)">8.46</text>
<line x1="1155.7" y1="106.7" x2="1161.2" y2="106.7" stroke="#000" stroke-width="2"/>
<line x1="1155.7" y1="157.85" x2="1165.7" y2="157.85" stroke="#000" stroke-width="2"/>
<text x="1144.6" y="163.45" font-family="'Liberation Sans', Arial, sans-serif" font-size="23.8" text-anchor="end" fill="#000" transform="translate(1144.6 0) scale(0.9421 1) translate(-1144.6 0)">8.45</text>
<line x1="1155.7" y1="209" x2="1161.2" y2="209" stroke="#000" stroke-width="2"/>
<line x1="1155.7" y1="260.15" x2="1165.7" y2="260.15" stroke="#000" stroke-width="2"/>
<text x="1144.6" y="265.75" font-family="'Liberation Sans', Arial, sans-serif" font-size="23.8" text-anchor="end" fill="#000" transform="translate(1144.6 0) scale(0.9421 1) translate(-1144.6 0)">8.44</text>
<line x1="1155.7" y1="311.3" x2="1161.2" y2="311.3" stroke="#000" stroke-width="2"/>
<line x1="1155.7" y1="362.45" x2="1165.7" y2="362.45" stroke="#000" stroke-width="2"/>
<text x="1144.6" y="368.05" font-family="'Liberation Sans', Arial, sans-serif" font-size="23.8" text-anchor="end" fill="#000" transform="translate(1144.6 0) scale(0.9421 1) translate(-1144.6 0)">8.43</text>
<line x1="1155.7" y1="413.6" x2="1161.2" y2="413.6" stroke="#000" stroke-width="2"/>
<line x1="1155.7" y1="464.75" x2="1165.7" y2="464.75" stroke="#000" stroke-width="2"/>
<text x="1144.6" y="470.35" font-family="'Liberation Sans', Arial, sans-serif" font-size="23.8" text-anchor="end" fill="#000" transform="translate(1144.6 0) scale(0.9421 1) translate(-1144.6 0)">8.42</text>
<line x1="1155.7" y1="515.9" x2="1161.2" y2="515.9" stroke="#000" stroke-width="2"/>
<line x1="1155.7" y1="515.9" x2="1155.7" y2="504.9" stroke="#000" stroke-width="2"/>
<line x1="1189.1" y1="515.9" x2="1189.1" y2="510.4" stroke="#000" stroke-width="2"/>
<text x="1154.9" y="543.8" font-family="'Liberation Sans', Arial, sans-serif" font-size="23.6" text-anchor="middle" fill="#000" transform="translate(1154.9 0) scale(0.92 1) translate(-1154.9 0)">0.10</text>
<line x1="1222.5" y1="515.9" x2="1222.5" y2="504.9" stroke="#000" stroke-width="2"/>
<line x1="1255.9" y1="515.9" x2="1255.9" y2="510.4" stroke="#000" stroke-width="2"/>
<text x="1221.7" y="543.8" font-family="'Liberation Sans', Arial, sans-serif" font-size="23.6" text-anchor="middle" fill="#000" transform="translate(1221.7 0) scale(0.92 1) translate(-1221.7 0)">0.10</text>
<line x1="1289.3" y1="515.9" x2="1289.3" y2="504.9" stroke="#000" stroke-width="2"/>
<line x1="1322.7" y1="515.9" x2="1322.7" y2="510.4" stroke="#000" stroke-width="2"/>
<text x="1288.5" y="543.8" font-family="'Liberation Sans', Arial, sans-serif" font-size="23.6" text-anchor="middle" fill="#000" transform="translate(1288.5 0) scale(0.92 1) translate(-1288.5 0)">0.11</text>
<line x1="1356.1" y1="515.9" x2="1356.1" y2="504.9" stroke="#000" stroke-width="2"/>
<line x1="1389.5" y1="515.9" x2="1389.5" y2="510.4" stroke="#000" stroke-width="2"/>
<text x="1355.3" y="543.8" font-family="'Liberation Sans', Arial, sans-serif" font-size="23.6" text-anchor="middle" fill="#000" transform="translate(1355.3 0) scale(0.92 1) translate(-1355.3 0)">0.11</text>
<line x1="1422.9" y1="515.9" x2="1422.9" y2="504.9" stroke="#000" stroke-width="2"/>
<line x1="1456.3" y1="515.9" x2="1456.3" y2="510.4" stroke="#000" stroke-width="2"/>
<text x="1422.1" y="543.8" font-family="'Liberation Sans', Arial, sans-serif" font-size="23.6" text-anchor="middle" fill="#000" transform="translate(1422.1 0) scale(0.92 1) translate(-1422.1 0)">0.12</text>
<line x1="1489.7" y1="515.9" x2="1489.7" y2="504.9" stroke="#000" stroke-width="2"/>
<line x1="1523.1" y1="515.9" x2="1523.1" y2="510.4" stroke="#000" stroke-width="2"/>
<text x="1488.9" y="543.8" font-family="'Liberation Sans', Arial, sans-serif" font-size="23.6" text-anchor="middle" fill="#000" transform="translate(1488.9 0) scale(0.92 1) translate(-1488.9 0)">0.12</text>
<line x1="1556.5" y1="515.9" x2="1556.5" y2="504.9" stroke="#000" stroke-width="2"/>
<line x1="1589.9" y1="515.9" x2="1589.9" y2="510.4" stroke="#000" stroke-width="2"/>
<text x="1555.7" y="543.8" font-family="'Liberation Sans', Arial, sans-serif" font-size="23.6" text-anchor="middle" fill="#000" transform="translate(1555.7 0) scale(0.92 1) translate(-1555.7 0)">0.13</text>
<line x1="1623.3" y1="515.9" x2="1623.3" y2="504.9" stroke="#000" stroke-width="2"/>
<line x1="1656.7" y1="515.9" x2="1656.7" y2="510.4" stroke="#000" stroke-width="2"/>
<text x="1622.5" y="543.8" font-family="'Liberation Sans', Arial, sans-serif" font-size="23.6" text-anchor="middle" fill="#000" transform="translate(1622.5 0) scale(0.92 1) translate(-1622.5 0)">0.13</text>
<line x1="1690.1" y1="515.9" x2="1690.1" y2="504.9" stroke="#000" stroke-width="2"/>
<line x1="1723.5" y1="515.9" x2="1723.5" y2="510.4" stroke="#000" stroke-width="2"/>
<text x="1689.3" y="543.8" font-family="'Liberation Sans', Arial, sans-serif" font-size="23.6" text-anchor="middle" fill="#000" transform="translate(1689.3 0) scale(0.92 1) translate(-1689.3 0)">0.14</text>
<line x1="1756.9" y1="515.9" x2="1756.9" y2="504.9" stroke="#000" stroke-width="2"/>
<text x="1756.1" y="543.8" font-family="'Liberation Sans', Arial, sans-serif" font-size="23.6" text-anchor="middle" fill="#000" transform="translate(1756.1 0) scale(0.92 1) translate(-1756.1 0)">0.14</text>
<polyline points="1212.1,448 1384.6,311.5 1470.1,244.7 1640.2,107.6 1726.1,41" fill="none" stroke="#000" stroke-width="1.3"/>
<rect x="1206.6" y="442.5" width="11" height="11" fill="#000"/>
<rect x="1379.1" y="306" width="11" height="11" fill="#000"/>
<rect x="1464.6" y="239.2" width="11" height="11" fill="#000"/>
<rect x="1634.7" y="102.1" width="11" height="11" fill="#000"/>
<rect x="1720.6" y="35.5" width="11" height="11" fill="#000"/>
<text x="1427" y="593.6" font-family="'Liberation Sans', Arial, sans-serif" font-size="33.7" fill="#000" transform="translate(1427 0) scale(1.0615 1) translate(-1427 0)">sin<tspan font-family="'Liberation Serif', 'Times New Roman', serif">θ</tspan>/<tspan font-family="'Liberation Serif', 'Times New Roman', serif">λ</tspan></text>
<text transform="translate(1077.6 259.6) rotate(-90) scale(1.0028 1)" font-family="'Liberation Sans', Arial, sans-serif" font-size="33" text-anchor="middle" fill="#000"><tspan font-family="'Liberation Serif', 'Times New Roman', serif">β</tspan>cos<tspan font-family="'Liberation Serif', 'Times New Roman', serif">θ</tspan>/<tspan font-family="'Liberation Serif', 'Times New Roman', serif">λ</tspan></text>
</g>
<g id="partb">
<g filter="url(#blur)" fill="#e0e0e0">
<ellipse cx="306.9" cy="883.2" rx="288.6" ry="252.3"/>
<ellipse cx="904.6" cy="882" rx="285.6" ry="254"/>
<ellipse cx="1516.5" cy="881.5" rx="289" ry="253"/>
</g>
<g fill="#fff" opacity="0.55">
<circle cx="192.5" cy="655.8" r="4.9"/>
<circle cx="192.5" cy="1109.2" r="4.9"/>
<circle cx="420.3" cy="655.8" r="4.9"/>
<circle cx="420.3" cy="1109.2" r="4.9"/>
<circle cx="151.1" cy="675.8" r="4.9"/>
<circle cx="151.1" cy="1089.2" r="4.9"/>
<circle cx="461.7" cy="675.8" r="4.9"/>
<circle cx="461.7" cy="1089.2" r="4.9"/>
<circle cx="190.6" cy="690.4" r="4.9"/>
<circle cx="190.6" cy="1074.6" r="4.9"/>
<circle cx="422.2" cy="690.4" r="4.9"/>
<circle cx="422.2" cy="1074.6" r="4.9"/>
<circle cx="228.4" cy="688.2" r="4.9"/>
<circle cx="228.4" cy="1076.8" r="4.9"/>
<circle cx="384.4" cy="688.2" r="4.9"/>
<circle cx="384.4" cy="1076.8" r="4.9"/>
<circle cx="253.5" cy="670.9" r="4.4"/>
<circle cx="253.5" cy="1094.1" r="4.4"/>
<circle cx="359.3" cy="670.9" r="4.4"/>
<circle cx="359.3" cy="1094.1" r="4.4"/>
<circle cx="306.4" cy="674.6" r="4.9"/>
<circle cx="306.4" cy="1090.4" r="4.9"/>
<circle cx="99.2" cy="727.7" r="4.9"/>
<circle cx="99.2" cy="1037.3" r="4.9"/>
<circle cx="513.6" cy="727.7" r="4.9"/>
<circle cx="513.6" cy="1037.3" r="4.9"/>
<circle cx="280.3" cy="726.5" r="4.9"/>
<circle cx="280.3" cy="1038.5" r="4.9"/>
<circle cx="332.5" cy="726.5" r="4.9"/>
<circle cx="332.5" cy="1038.5" r="4.9"/>
<circle cx="306.4" cy="740.9" r="4.4"/>
<circle cx="306.4" cy="1024.1" r="4.4"/>
<circle cx="306.4" cy="753.3" r="4.9"/>
<circle cx="306.4" cy="1011.7" r="4.9"/>
<circle cx="79.2" cy="769.6" r="4.9"/>
<circle cx="79.2" cy="995.4" r="4.9"/>
<circle cx="533.6" cy="769.6" r="4.9"/>
<circle cx="533.6" cy="995.4" r="4.9"/>
<circle cx="113.6" cy="767.2" r="4.9"/>
<circle cx="113.6" cy="997.8" r="4.9"/>
<circle cx="499.2" cy="767.2" r="4.9"/>
<circle cx="499.2" cy="997.8" r="4.9"/>
<circle cx="111.6" cy="805" r="4.9"/>
<circle cx="111.6" cy="960" r="4.9"/>
<circle cx="501.2" cy="805" r="4.9"/>
<circle cx="501.2" cy="960" r="4.9"/>
<circle cx="94.3" cy="830.1" r="4.4"/>
<circle cx="94.3" cy="934.9" r="4.4"/>
<circle cx="518.5" cy="830.1" r="4.4"/>
<circle cx="518.5" cy="934.9" r="4.4"/>
<circle cx="47.5" cy="839.6" r="4.9"/>
<circle cx="47.5" cy="925.4" r="4.9"/>
<circle cx="565.3" cy="839.6" r="4.9"/>
<circle cx="565.3" cy="925.4" r="4.9"/>
<circle cx="149.9" cy="856.9" r="4.9"/>
<circle cx="149.9" cy="908.1" r="4.9"/>
<circle cx="462.9" cy="856.9" r="4.9"/>
<circle cx="462.9" cy="908.1" r="4.9"/>
<circle cx="47.8" cy="882.5" r="4.9"/>
<circle cx="565" cy="882.5" r="4.9"/>
<circle cx="98" cy="882.5" r="4.9"/>
<circle cx="514.8" cy="882.5" r="4.9"/>
<circle cx="164" cy="882.5" r="4.4"/>
<circle cx="448.8" cy="882.5" r="4.4"/>
<circle cx="176.5" cy="882.5" r="4.4"/>
<circle cx="436.3" cy="882.5" r="4.4"/>
<circle cx="223" cy="882.5" r="5.8"/>
<circle cx="389.8" cy="882.5" r="5.8"/>
<circle cx="306.4" cy="799.6" r="5.8"/>
<circle cx="306.4" cy="965.4" r="5.8"/>
<circle cx="204.2" cy="780.1" r="5.8"/>
<circle cx="204.2" cy="984.9" r="5.8"/>
<circle cx="408.6" cy="780.1" r="5.8"/>
<circle cx="408.6" cy="984.9" r="5.8"/>
<circle cx="216.4" cy="771.3" r="4.9"/>
<circle cx="216.4" cy="993.7" r="4.9"/>
<circle cx="396.4" cy="771.3" r="4.9"/>
<circle cx="396.4" cy="993.7" r="4.9"/>
<circle cx="221.1" cy="769.6" r="4.4"/>
<circle cx="221.1" cy="995.4" r="4.4"/>
<circle cx="391.7" cy="769.6" r="4.4"/>
<circle cx="391.7" cy="995.4" r="4.4"/>
<circle cx="228.6" cy="766.7" r="4.9"/>
<circle cx="228.6" cy="998.3" r="4.9"/>
<circle cx="384.2" cy="766.7" r="4.9"/>
<circle cx="384.2" cy="998.3" r="4.9"/>
<circle cx="247.4" cy="765.3" r="4.9"/>
<circle cx="247.4" cy="999.7" r="4.9"/>
<circle cx="365.4" cy="765.3" r="4.9"/>
<circle cx="365.4" cy="999.7" r="4.9"/>
<circle cx="260.3" cy="767.7" r="4.4"/>
<circle cx="260.3" cy="997.3" r="4.4"/>
<circle cx="352.5" cy="767.7" r="4.4"/>
<circle cx="352.5" cy="997.3" r="4.4"/>
<circle cx="279.1" cy="775.7" r="4.9"/>
<circle cx="279.1" cy="989.3" r="4.9"/>
<circle cx="333.7" cy="775.7" r="4.9"/>
<circle cx="333.7" cy="989.3" r="4.9"/>
<circle cx="285.6" cy="779.4" r="4.9"/>
<circle cx="285.6" cy="985.6" r="4.9"/>
<circle cx="327.2" cy="779.4" r="4.9"/>
<circle cx="327.2" cy="985.6" r="4.9"/>
<circle cx="194.5" cy="792.8" r="4.9"/>
<circle cx="194.5" cy="972.2" r="4.9"/>
<circle cx="418.3" cy="792.8" r="4.9"/>
<circle cx="418.3" cy="972.2" r="4.9"/>
<circle cx="193" cy="797.7" r="4.4"/>
<circle cx="193" cy="967.3" r="4.4"/>
<circle cx="419.8" cy="797.7" r="4.4"/>
<circle cx="419.8" cy="967.3" r="4.4"/>
<circle cx="190.1" cy="805" r="4.9"/>
<circle cx="190.1" cy="960" r="4.9"/>
<circle cx="422.7" cy="805" r="4.9"/>
<circle cx="422.7" cy="960" r="4.9"/>
<circle cx="188.9" cy="824" r="4.9"/>
<circle cx="188.9" cy="941" r="4.9"/>
<circle cx="423.9" cy="824" r="4.9"/>
<circle cx="423.9" cy="941" r="4.9"/>
<circle cx="190.8" cy="836.7" r="4.4"/>
<circle cx="190.8" cy="928.3" r="4.4"/>
<circle cx="422" cy="836.7" r="4.4"/>
<circle cx="422" cy="928.3" r="4.4"/>
<circle cx="198.6" cy="855.4" r="4.9"/>
<circle cx="198.6" cy="909.6" r="4.9"/>
<circle cx="414.2" cy="855.4" r="4.9"/>
<circle cx="414.2" cy="909.6" r="4.9"/>
<circle cx="202.8" cy="862.3" r="4.9"/>
<circle cx="202.8" cy="902.7" r="4.9"/>
<circle cx="410" cy="862.3" r="4.9"/>
<circle cx="410" cy="902.7" r="4.9"/>
<circle cx="255.9" cy="815.9" r="4.9"/>
<circle cx="255.9" cy="949.1" r="4.9"/>
<circle cx="356.9" cy="815.9" r="4.9"/>
<circle cx="356.9" cy="949.1" r="4.9"/>
<circle cx="274.2" cy="818.4" r="4.9"/>
<circle cx="274.2" cy="946.6" r="4.9"/>
<circle cx="338.6" cy="818.4" r="4.9"/>
<circle cx="338.6" cy="946.6" r="4.9"/>
<circle cx="269.8" cy="828.4" r="4.4"/>
<circle cx="269.8" cy="936.6" r="4.4"/>
<circle cx="343" cy="828.4" r="4.4"/>
<circle cx="343" cy="936.6" r="4.4"/>
<circle cx="239.6" cy="832.5" r="4.9"/>
<circle cx="239.6" cy="932.5" r="4.9"/>
<circle cx="373.2" cy="832.5" r="4.9"/>
<circle cx="373.2" cy="932.5" r="4.9"/>
<circle cx="291.2" cy="837.9" r="4.9"/>
<circle cx="291.2" cy="927.1" r="4.9"/>
<circle cx="321.6" cy="837.9" r="4.9"/>
<circle cx="321.6" cy="927.1" r="4.9"/>
<circle cx="242" cy="850.8" r="4.9"/>
<circle cx="242" cy="914.2" r="4.9"/>
<circle cx="370.8" cy="850.8" r="4.9"/>
<circle cx="370.8" cy="914.2" r="4.9"/>
<circle cx="251.8" cy="846.4" r="4.4"/>
<circle cx="251.8" cy="918.6" r="4.4"/>
<circle cx="361" cy="846.4" r="4.4"/>
<circle cx="361" cy="918.6" r="4.4"/>
<circle cx="291.7" cy="853.7" r="4.9"/>
<circle cx="291.7" cy="911.3" r="4.9"/>
<circle cx="321.1" cy="853.7" r="4.9"/>
<circle cx="321.1" cy="911.3" r="4.9"/>
<circle cx="261.3" cy="867.6" r="4.9"/>
<circle cx="261.3" cy="897.4" r="4.9"/>
<circle cx="351.5" cy="867.6" r="4.9"/>
<circle cx="351.5" cy="897.4" r="4.9"/>
<circle cx="277.1" cy="868.3" r="4.9"/>
<circle cx="277.1" cy="896.7" r="4.9"/>
<circle cx="335.7" cy="868.3" r="4.9"/>
<circle cx="335.7" cy="896.7" r="4.9"/>
<circle cx="306.4" cy="882.5" r="9.8"/>
<circle cx="305.9" cy="625" r="4.5"/>
<circle cx="306.3" cy="1141.6" r="4.5"/>
<circle cx="263.4" cy="625" r="4"/>
<circle cx="263.4" cy="1141" r="4"/>
<circle cx="349.4" cy="625" r="4"/>
<circle cx="349.4" cy="1141" r="4"/>
<circle cx="906.8" cy="1119.1" r="4.9"/>
<circle cx="906.8" cy="639.1" r="4.9"/>
<circle cx="1146.8" cy="879.1" r="4.9"/>
<circle cx="666.8" cy="879.1" r="4.9"/>
<circle cx="906.8" cy="1071.7" r="5.9"/>
<circle cx="906.8" cy="686.5" r="5.9"/>
<circle cx="1099.4" cy="879.1" r="5.9"/>
<circle cx="714.2" cy="879.1" r="5.9"/>
<circle cx="906.8" cy="1041.1" r="4.9"/>
<circle cx="906.8" cy="717.1" r="4.9"/>
<circle cx="1068.8" cy="879.1" r="4.9"/>
<circle cx="744.8" cy="879.1" r="4.9"/>
<circle cx="906.8" cy="1003.9" r="5.9"/>
<circle cx="906.8" cy="754.3" r="5.9"/>
<circle cx="1031.6" cy="879.1" r="5.9"/>
<circle cx="782" cy="879.1" r="5.9"/>
<circle cx="906.8" cy="981.4" r="4.2"/>
<circle cx="906.8" cy="776.8" r="4.2"/>
<circle cx="1009.1" cy="879.1" r="4.2"/>
<circle cx="804.5" cy="879.1" r="4.2"/>
<circle cx="906.8" cy="973.5" r="4.9"/>
<circle cx="906.8" cy="784.7" r="4.9"/>
<circle cx="1001.2" cy="879.1" r="4.9"/>
<circle cx="812.4" cy="879.1" r="4.9"/>
<circle cx="906.8" cy="955.6" r="4.9"/>
<circle cx="906.8" cy="802.6" r="4.9"/>
<circle cx="983.3" cy="879.1" r="4.9"/>
<circle cx="830.3" cy="879.1" r="4.9"/>
<circle cx="906.8" cy="943.8" r="4.9"/>
<circle cx="906.8" cy="814.4" r="4.9"/>
<circle cx="971.5" cy="879.1" r="4.9"/>
<circle cx="842.1" cy="879.1" r="4.9"/>
<circle cx="906.8" cy="935.5" r="4.9"/>
<circle cx="906.8" cy="822.7" r="4.9"/>
<circle cx="963.2" cy="879.1" r="4.9"/>
<circle cx="850.4" cy="879.1" r="4.9"/>
<circle cx="906.8" cy="924" r="4.9"/>
<circle cx="906.8" cy="834.2" r="4.9"/>
<circle cx="951.7" cy="879.1" r="4.9"/>
<circle cx="861.9" cy="879.1" r="4.9"/>
<circle cx="906.8" cy="916.3" r="4.9"/>
<circle cx="906.8" cy="841.9" r="4.9"/>
<circle cx="944" cy="879.1" r="4.9"/>
<circle cx="869.6" cy="879.1" r="4.9"/>
<circle cx="906.8" cy="911.9" r="4.9"/>
<circle cx="906.8" cy="846.3" r="4.9"/>
<circle cx="939.6" cy="879.1" r="4.9"/>
<circle cx="874" cy="879.1" r="4.9"/>
<circle cx="906.8" cy="907.3" r="4.9"/>
<circle cx="906.8" cy="850.9" r="4.9"/>
<circle cx="935" cy="879.1" r="4.9"/>
<circle cx="878.6" cy="879.1" r="4.9"/>
<circle cx="966.3" cy="1117.1" r="4.9"/>
<circle cx="966.3" cy="641.1" r="4.9"/>
<circle cx="847.3" cy="1117.1" r="4.9"/>
<circle cx="847.3" cy="641.1" r="4.9"/>
<circle cx="1144.8" cy="938.6" r="4.9"/>
<circle cx="1144.8" cy="819.6" r="4.9"/>
<circle cx="668.8" cy="938.6" r="4.9"/>
<circle cx="668.8" cy="819.6" r="4.9"/>
<circle cx="1046.4" cy="1088.2" r="4.9"/>
<circle cx="1046.4" cy="670" r="4.9"/>
<circle cx="767.2" cy="1088.2" r="4.9"/>
<circle cx="767.2" cy="670" r="4.9"/>
<circle cx="1115.9" cy="1018.7" r="4.9"/>
<circle cx="1115.9" cy="739.5" r="4.9"/>
<circle cx="697.7" cy="1018.7" r="4.9"/>
<circle cx="697.7" cy="739.5" r="4.9"/>
<circle cx="991.7" cy="1049.1" r="4.9"/>
<circle cx="991.7" cy="709.1" r="4.9"/>
<circle cx="821.9" cy="1049.1" r="4.9"/>
<circle cx="821.9" cy="709.1" r="4.9"/>
<circle cx="1076.8" cy="964" r="4.9"/>
<circle cx="1076.8" cy="794.2" r="4.9"/>
<circle cx="736.8" cy="964" r="4.9"/>
<circle cx="736.8" cy="794.2" r="4.9"/>
<circle cx="1004.8" cy="1026" r="4.9"/>
<circle cx="1004.8" cy="732.2" r="4.9"/>
<circle cx="808.8" cy="1026" r="4.9"/>
<circle cx="808.8" cy="732.2" r="4.9"/>
<circle cx="1053.7" cy="977.1" r="4.9"/>
<circle cx="1053.7" cy="781.1" r="4.9"/>
<circle cx="759.9" cy="977.1" r="4.9"/>
<circle cx="759.9" cy="781.1" r="4.9"/>
<circle cx="955.8" cy="1026.2" r="4.9"/>
<circle cx="955.8" cy="732" r="4.9"/>
<circle cx="857.8" cy="1026.2" r="4.9"/>
<circle cx="857.8" cy="732" r="4.9"/>
<circle cx="1053.9" cy="928.1" r="4.9"/>
<circle cx="1053.9" cy="830.1" r="4.9"/>
<circle cx="759.7" cy="928.1" r="4.9"/>
<circle cx="759.7" cy="830.1" r="4.9"/>
<circle cx="964.3" cy="993.9" r="4.9"/>
<circle cx="964.3" cy="764.3" r="4.9"/>
<circle cx="849.3" cy="993.9" r="4.9"/>
<circle cx="849.3" cy="764.3" r="4.9"/>
<circle cx="1021.6" cy="936.6" r="4.9"/>
<circle cx="1021.6" cy="821.6" r="4.9"/>
<circle cx="792" cy="936.6" r="4.9"/>
<circle cx="792" cy="821.6" r="4.9"/>
<circle cx="950.7" cy="967.1" r="4.9"/>
<circle cx="950.7" cy="791.1" r="4.9"/>
<circle cx="862.9" cy="967.1" r="4.9"/>
<circle cx="862.9" cy="791.1" r="4.9"/>
<circle cx="994.8" cy="923" r="4.9"/>
<circle cx="994.8" cy="835.2" r="4.9"/>
<circle cx="818.8" cy="923" r="4.9"/>
<circle cx="818.8" cy="835.2" r="4.9"/>
<circle cx="942.9" cy="951.5" r="4.9"/>
<circle cx="942.9" cy="806.7" r="4.9"/>
<circle cx="870.7" cy="951.5" r="4.9"/>
<circle cx="870.7" cy="806.7" r="4.9"/>
<circle cx="979.2" cy="915.2" r="4.9"/>
<circle cx="979.2" cy="843" r="4.9"/>
<circle cx="834.4" cy="915.2" r="4.9"/>
<circle cx="834.4" cy="843" r="4.9"/>
<circle cx="937.6" cy="940.6" r="4.2"/>
<circle cx="937.6" cy="817.6" r="4.2"/>
<circle cx="876" cy="940.6" r="4.2"/>
<circle cx="876" cy="817.6" r="4.2"/>
<circle cx="968.3" cy="909.9" r="4.2"/>
<circle cx="968.3" cy="848.3" r="4.2"/>
<circle cx="845.3" cy="909.9" r="4.2"/>
<circle cx="845.3" cy="848.3" r="4.2"/>
<circle cx="1026.4" cy="998.7" r="5.9"/>
<circle cx="1026.4" cy="759.5" r="5.9"/>
<circle cx="787.2" cy="998.7" r="5.9"/>
<circle cx="787.2" cy="759.5" r="5.9"/>
<circle cx="979.6" cy="951.9" r="4.9"/>
<circle cx="979.6" cy="806.3" r="4.9"/>
<circle cx="834" cy="951.9" r="4.9"/>
<circle cx="834" cy="806.3" r="4.9"/>
<circle cx="960.1" cy="932.4" r="4.9"/>
<circle cx="960.1" cy="825.8" r="4.9"/>
<circle cx="853.5" cy="932.4" r="4.9"/>
<circle cx="853.5" cy="825.8" r="4.9"/>
<circle cx="942.3" cy="914.6" r="4.9"/>
<circle cx="942.3" cy="843.6" r="4.9"/>
<circle cx="871.3" cy="914.6" r="4.9"/>
<circle cx="871.3" cy="843.6" r="4.9"/>
<circle cx="933.8" cy="906.1" r="4.9"/>
<circle cx="933.8" cy="852.1" r="4.9"/>
<circle cx="879.8" cy="906.1" r="4.9"/>
<circle cx="879.8" cy="852.1" r="4.9"/>
<circle cx="906.8" cy="879.1" r="6.3"/>
<circle cx="1457.3" cy="660.3" r="5.3"/>
<circle cx="1457.3" cy="1118.3" r="5.3"/>
<circle cx="1577.7" cy="660.3" r="5.3"/>
<circle cx="1577.7" cy="1118.3" r="5.3"/>
<circle cx="1371.3" cy="674.9" r="6.3"/>
<circle cx="1663.7" cy="674.9" r="6.3"/>
<circle cx="1485.8" cy="700.5" r="5.3"/>
<circle cx="1485.8" cy="1078.1" r="5.3"/>
<circle cx="1549.2" cy="700.5" r="5.3"/>
<circle cx="1549.2" cy="1078.1" r="5.3"/>
<circle cx="1437.1" cy="705.6" r="5.3"/>
<circle cx="1437.1" cy="1073" r="5.3"/>
<circle cx="1597.9" cy="705.6" r="5.3"/>
<circle cx="1597.9" cy="1073" r="5.3"/>
<circle cx="1517.5" cy="710.3" r="4.5"/>
<circle cx="1517.5" cy="1068.3" r="4.5"/>
<circle cx="1517.5" cy="726.1" r="5.3"/>
<circle cx="1517.5" cy="1052.5" r="5.3"/>
<circle cx="1416.4" cy="714.1" r="5.3"/>
<circle cx="1416.4" cy="1064.5" r="5.3"/>
<circle cx="1618.6" cy="714.1" r="5.3"/>
<circle cx="1618.6" cy="1064.5" r="5.3"/>
<circle cx="1344.1" cy="723.2" r="6.3"/>
<circle cx="1344.1" cy="1055.4" r="6.3"/>
<circle cx="1690.9" cy="723.2" r="6.3"/>
<circle cx="1690.9" cy="1055.4" r="6.3"/>
<circle cx="1305.1" cy="732.9" r="5.3"/>
<circle cx="1305.1" cy="1045.7" r="5.3"/>
<circle cx="1729.9" cy="732.9" r="5.3"/>
<circle cx="1729.9" cy="1045.7" r="5.3"/>
<circle cx="1336.5" cy="742.2" r="5.3"/>
<circle cx="1336.5" cy="1036.4" r="5.3"/>
<circle cx="1698.5" cy="742.2" r="5.3"/>
<circle cx="1698.5" cy="1036.4" r="5.3"/>
<circle cx="1367.2" cy="745.1" r="5.3"/>
<circle cx="1367.2" cy="1033.5" r="5.3"/>
<circle cx="1667.8" cy="745.1" r="5.3"/>
<circle cx="1667.8" cy="1033.5" r="5.3"/>
<circle cx="1392" cy="739" r="5.3"/>
<circle cx="1392" cy="1039.6" r="5.3"/>
<circle cx="1643" cy="739" r="5.3"/>
<circle cx="1643" cy="1039.6" r="5.3"/>
<circle cx="1415.2" cy="742.7" r="5.3"/>
<circle cx="1415.2" cy="1035.9" r="5.3"/>
<circle cx="1619.8" cy="742.7" r="5.3"/>
<circle cx="1619.8" cy="1035.9" r="5.3"/>
<circle cx="1277.8" cy="751.2" r="5.3"/>
<circle cx="1757.2" cy="751.2" r="5.3"/>
<circle cx="1400.1" cy="761.4" r="5.3"/>
<circle cx="1400.1" cy="1017.2" r="5.3"/>
<circle cx="1634.9" cy="761.4" r="5.3"/>
<circle cx="1634.9" cy="1017.2" r="5.3"/>
<circle cx="1452.5" cy="766.5" r="5.3"/>
<circle cx="1452.5" cy="1012.1" r="5.3"/>
<circle cx="1582.5" cy="766.5" r="5.3"/>
<circle cx="1582.5" cy="1012.1" r="5.3"/>
<circle cx="1463.9" cy="761.4" r="4.5"/>
<circle cx="1463.9" cy="1017.2" r="4.5"/>
<circle cx="1571.1" cy="761.4" r="4.5"/>
<circle cx="1571.1" cy="1017.2" r="4.5"/>
<circle cx="1484.6" cy="760.2" r="5.3"/>
<circle cx="1484.6" cy="1018.4" r="5.3"/>
<circle cx="1550.4" cy="760.2" r="5.3"/>
<circle cx="1550.4" cy="1018.4" r="5.3"/>
<circle cx="1492.4" cy="762.9" r="5.3"/>
<circle cx="1492.4" cy="1015.7" r="5.3"/>
<circle cx="1542.6" cy="762.9" r="5.3"/>
<circle cx="1542.6" cy="1015.7" r="5.3"/>
<circle cx="1517.5" cy="784.5" r="6.3"/>
<circle cx="1517.5" cy="994.1" r="6.3"/>
<circle cx="1301.4" cy="786.5" r="5.3"/>
<circle cx="1301.4" cy="992.1" r="5.3"/>
<circle cx="1733.6" cy="786.5" r="5.3"/>
<circle cx="1733.6" cy="992.1" r="5.3"/>
<circle cx="1324.3" cy="780.7" r="5.3"/>
<circle cx="1324.3" cy="997.9" r="5.3"/>
<circle cx="1710.7" cy="780.7" r="5.3"/>
<circle cx="1710.7" cy="997.9" r="5.3"/>
<circle cx="1352.6" cy="779.7" r="5.3"/>
<circle cx="1352.6" cy="998.9" r="5.3"/>
<circle cx="1682.4" cy="779.7" r="5.3"/>
<circle cx="1682.4" cy="998.9" r="5.3"/>
<circle cx="1368.9" cy="782.1" r="4.5"/>
<circle cx="1368.9" cy="996.5" r="4.5"/>
<circle cx="1666.1" cy="782.1" r="4.5"/>
<circle cx="1666.1" cy="996.5" r="4.5"/>
<circle cx="1437.1" cy="779.9" r="5.3"/>
<circle cx="1437.1" cy="998.7" r="5.3"/>
<circle cx="1597.9" cy="779.9" r="5.3"/>
<circle cx="1597.9" cy="998.7" r="5.3"/>
<circle cx="1430.3" cy="786.5" r="5.3"/>
<circle cx="1430.3" cy="992.1" r="5.3"/>
<circle cx="1604.7" cy="786.5" r="5.3"/>
<circle cx="1604.7" cy="992.1" r="5.3"/>
<circle cx="1429.1" cy="790.6" r="5.3"/>
<circle cx="1429.1" cy="988" r="5.3"/>
<circle cx="1605.9" cy="790.6" r="5.3"/>
<circle cx="1605.9" cy="988" r="5.3"/>
<circle cx="1269.5" cy="802.6" r="6.3"/>
<circle cx="1269.5" cy="976" r="6.3"/>
<circle cx="1765.5" cy="802.6" r="6.3"/>
<circle cx="1765.5" cy="976" r="6.3"/>
<circle cx="1422" cy="805.5" r="6.3"/>
<circle cx="1422" cy="973.1" r="6.3"/>
<circle cx="1613" cy="805.5" r="6.3"/>
<circle cx="1613" cy="973.1" r="6.3"/>
<circle cx="1338.4" cy="807.2" r="5.3"/>
<circle cx="1338.4" cy="971.4" r="5.3"/>
<circle cx="1696.6" cy="807.2" r="5.3"/>
<circle cx="1696.6" cy="971.4" r="5.3"/>
<circle cx="1361" cy="807.9" r="5.3"/>
<circle cx="1361" cy="970.7" r="5.3"/>
<circle cx="1674" cy="807.9" r="5.3"/>
<circle cx="1674" cy="970.7" r="5.3"/>
<circle cx="1344.1" cy="816.2" r="5.3"/>
<circle cx="1344.1" cy="962.4" r="5.3"/>
<circle cx="1690.9" cy="816.2" r="5.3"/>
<circle cx="1690.9" cy="962.4" r="5.3"/>
<circle cx="1387" cy="813.3" r="5.3"/>
<circle cx="1387" cy="965.3" r="5.3"/>
<circle cx="1648" cy="813.3" r="5.3"/>
<circle cx="1648" cy="965.3" r="5.3"/>
<circle cx="1376.2" cy="819.4" r="4.5"/>
<circle cx="1376.2" cy="959.2" r="4.5"/>
<circle cx="1658.8" cy="819.4" r="4.5"/>
<circle cx="1658.8" cy="959.2" r="4.5"/>
<circle cx="1417.1" cy="819.4" r="5.3"/>
<circle cx="1417.1" cy="959.2" r="5.3"/>
<circle cx="1617.9" cy="819.4" r="5.3"/>
<circle cx="1617.9" cy="959.2" r="5.3"/>
<circle cx="1416.4" cy="824.3" r="5.3"/>
<circle cx="1416.4" cy="954.3" r="5.3"/>
<circle cx="1618.6" cy="824.3" r="5.3"/>
<circle cx="1618.6" cy="954.3" r="5.3"/>
<circle cx="1241.7" cy="821.8" r="5.3"/>
<circle cx="1241.7" cy="956.8" r="5.3"/>
<circle cx="1793.3" cy="821.8" r="5.3"/>
<circle cx="1793.3" cy="956.8" r="5.3"/>
<circle cx="1296.3" cy="822.6" r="4.5"/>
<circle cx="1296.3" cy="956" r="4.5"/>
<circle cx="1738.7" cy="822.6" r="4.5"/>
<circle cx="1738.7" cy="956" r="4.5"/>
<circle cx="1317.3" cy="818.2" r="5.3"/>
<circle cx="1317.3" cy="960.4" r="5.3"/>
<circle cx="1717.7" cy="818.2" r="5.3"/>
<circle cx="1717.7" cy="960.4" r="5.3"/>
<circle cx="1279.9" cy="827.4" r="5.3"/>
<circle cx="1279.9" cy="951.2" r="5.3"/>
<circle cx="1755.1" cy="827.4" r="5.3"/>
<circle cx="1755.1" cy="951.2" r="5.3"/>
<circle cx="1460.3" cy="816.9" r="5.3"/>
<circle cx="1460.3" cy="961.7" r="5.3"/>
<circle cx="1574.7" cy="816.9" r="5.3"/>
<circle cx="1574.7" cy="961.7" r="5.3"/>
<circle cx="1479.3" cy="814.5" r="5.3"/>
<circle cx="1479.3" cy="964.1" r="5.3"/>
<circle cx="1555.7" cy="814.5" r="5.3"/>
<circle cx="1555.7" cy="964.1" r="5.3"/>
<circle cx="1474.4" cy="826.7" r="5.3"/>
<circle cx="1474.4" cy="951.9" r="5.3"/>
<circle cx="1560.6" cy="826.7" r="5.3"/>
<circle cx="1560.6" cy="951.9" r="5.3"/>
<circle cx="1390.8" cy="829.9" r="5.3"/>
<circle cx="1390.8" cy="948.7" r="5.3"/>
<circle cx="1644.2" cy="829.9" r="5.3"/>
<circle cx="1644.2" cy="948.7" r="5.3"/>
<circle cx="1415.2" cy="831.1" r="5.3"/>
<circle cx="1415.2" cy="947.5" r="5.3"/>
<circle cx="1619.8" cy="831.1" r="5.3"/>
<circle cx="1619.8" cy="947.5" r="5.3"/>
<circle cx="1315.3" cy="836.4" r="4.5"/>
<circle cx="1315.3" cy="942.2" r="4.5"/>
<circle cx="1719.7" cy="836.4" r="4.5"/>
<circle cx="1719.7" cy="942.2" r="4.5"/>
<circle cx="1334.8" cy="834.7" r="4.5"/>
<circle cx="1334.8" cy="943.9" r="4.5"/>
<circle cx="1700.2" cy="834.7" r="4.5"/>
<circle cx="1700.2" cy="943.9" r="4.5"/>
<circle cx="1357.5" cy="835.2" r="5.3"/>
<circle cx="1357.5" cy="943.4" r="5.3"/>
<circle cx="1677.5" cy="835.2" r="5.3"/>
<circle cx="1677.5" cy="943.4" r="5.3"/>
<circle cx="1287.3" cy="842" r="5.3"/>
<circle cx="1287.3" cy="936.6" r="5.3"/>
<circle cx="1747.7" cy="842" r="5.3"/>
<circle cx="1747.7" cy="936.6" r="5.3"/>
<circle cx="1379.9" cy="838.1" r="5.3"/>
<circle cx="1379.9" cy="940.5" r="5.3"/>
<circle cx="1655.1" cy="838.1" r="5.3"/>
<circle cx="1655.1" cy="940.5" r="5.3"/>
<circle cx="1445.6" cy="839.6" r="5.3"/>
<circle cx="1445.6" cy="939" r="5.3"/>
<circle cx="1589.4" cy="839.6" r="5.3"/>
<circle cx="1589.4" cy="939" r="5.3"/>
<circle cx="1499.2" cy="834.5" r="5.3"/>
<circle cx="1499.2" cy="944.1" r="5.3"/>
<circle cx="1535.8" cy="834.5" r="5.3"/>
<circle cx="1535.8" cy="944.1" r="5.3"/>
<circle cx="1267.1" cy="846.9" r="5.3"/>
<circle cx="1267.1" cy="931.7" r="5.3"/>
<circle cx="1767.9" cy="846.9" r="5.3"/>
<circle cx="1767.9" cy="931.7" r="5.3"/>
<circle cx="1341.1" cy="845.7" r="4.5"/>
<circle cx="1341.1" cy="932.9" r="4.5"/>
<circle cx="1693.9" cy="845.7" r="4.5"/>
<circle cx="1693.9" cy="932.9" r="4.5"/>
<circle cx="1361.2" cy="846.9" r="4.5"/>
<circle cx="1361.2" cy="931.7" r="4.5"/>
<circle cx="1673.8" cy="846.9" r="4.5"/>
<circle cx="1673.8" cy="931.7" r="4.5"/>
<circle cx="1391.3" cy="849.8" r="5.3"/>
<circle cx="1391.3" cy="928.8" r="5.3"/>
<circle cx="1643.7" cy="849.8" r="5.3"/>
<circle cx="1643.7" cy="928.8" r="5.3"/>
<circle cx="1414.7" cy="845.7" r="5.3"/>
<circle cx="1414.7" cy="932.9" r="5.3"/>
<circle cx="1620.3" cy="845.7" r="5.3"/>
<circle cx="1620.3" cy="932.9" r="5.3"/>
<circle cx="1252.5" cy="851.8" r="5.3"/>
<circle cx="1252.5" cy="926.8" r="5.3"/>
<circle cx="1782.5" cy="851.8" r="5.3"/>
<circle cx="1782.5" cy="926.8" r="5.3"/>
<circle cx="1241.7" cy="855.9" r="6.3"/>
<circle cx="1241.7" cy="922.7" r="6.3"/>
<circle cx="1793.3" cy="855.9" r="6.3"/>
<circle cx="1793.3" cy="922.7" r="6.3"/>
<circle cx="1316.5" cy="853.5" r="5.3"/>
<circle cx="1316.5" cy="925.1" r="5.3"/>
<circle cx="1718.5" cy="853.5" r="5.3"/>
<circle cx="1718.5" cy="925.1" r="5.3"/>
<circle cx="1376.9" cy="854.7" r="5.3"/>
<circle cx="1376.9" cy="923.9" r="5.3"/>
<circle cx="1658.1" cy="854.7" r="5.3"/>
<circle cx="1658.1" cy="923.9" r="5.3"/>
<circle cx="1415.2" cy="855.2" r="4.5"/>
<circle cx="1415.2" cy="923.4" r="4.5"/>
<circle cx="1619.8" cy="855.2" r="4.5"/>
<circle cx="1619.8" cy="923.4" r="4.5"/>
<circle cx="1456.1" cy="851.5" r="4.5"/>
<circle cx="1456.1" cy="927.1" r="4.5"/>
<circle cx="1578.9" cy="851.5" r="4.5"/>
<circle cx="1578.9" cy="927.1" r="4.5"/>
<circle cx="1447.6" cy="857.9" r="5.3"/>
<circle cx="1447.6" cy="920.7" r="5.3"/>
<circle cx="1587.4" cy="857.9" r="5.3"/>
<circle cx="1587.4" cy="920.7" r="5.3"/>
<circle cx="1499.7" cy="854.2" r="5.3"/>
<circle cx="1499.7" cy="924.4" r="5.3"/>
<circle cx="1535.3" cy="854.2" r="5.3"/>
<circle cx="1535.3" cy="924.4" r="5.3"/>
<circle cx="1279.9" cy="859.1" r="5.3"/>
<circle cx="1279.9" cy="919.5" r="5.3"/>
<circle cx="1755.1" cy="859.1" r="5.3"/>
<circle cx="1755.1" cy="919.5" r="5.3"/>
<circle cx="1301.4" cy="864.5" r="5.3"/>
<circle cx="1301.4" cy="914.1" r="5.3"/>
<circle cx="1733.6" cy="864.5" r="5.3"/>
<circle cx="1733.6" cy="914.1" r="5.3"/>
<circle cx="1317.3" cy="863.7" r="5.3"/>
<circle cx="1317.3" cy="914.9" r="5.3"/>
<circle cx="1717.7" cy="863.7" r="5.3"/>
<circle cx="1717.7" cy="914.9" r="5.3"/>
<circle cx="1336.3" cy="862" r="4.5"/>
<circle cx="1336.3" cy="916.6" r="4.5"/>
<circle cx="1698.7" cy="862" r="4.5"/>
<circle cx="1698.7" cy="916.6" r="4.5"/>
<circle cx="1333.1" cy="868.6" r="5.3"/>
<circle cx="1333.1" cy="910" r="5.3"/>
<circle cx="1701.9" cy="868.6" r="5.3"/>
<circle cx="1701.9" cy="910" r="5.3"/>
<circle cx="1359.1" cy="863.2" r="5.3"/>
<circle cx="1359.1" cy="915.4" r="5.3"/>
<circle cx="1675.9" cy="863.2" r="5.3"/>
<circle cx="1675.9" cy="915.4" r="5.3"/>
<circle cx="1370.4" cy="868.8" r="5.3"/>
<circle cx="1370.4" cy="909.8" r="5.3"/>
<circle cx="1664.6" cy="868.8" r="5.3"/>
<circle cx="1664.6" cy="909.8" r="5.3"/>
<circle cx="1379.1" cy="872.5" r="5.3"/>
<circle cx="1379.1" cy="906.1" r="5.3"/>
<circle cx="1655.9" cy="872.5" r="5.3"/>
<circle cx="1655.9" cy="906.1" r="5.3"/>
<circle cx="1386.5" cy="864.9" r="4.5"/>
<circle cx="1386.5" cy="913.7" r="4.5"/>
<circle cx="1648.5" cy="864.9" r="4.5"/>
<circle cx="1648.5" cy="913.7" r="4.5"/>
<circle cx="1399.4" cy="874.2" r="5.3"/>
<circle cx="1399.4" cy="904.4" r="5.3"/>
<circle cx="1635.6" cy="874.2" r="5.3"/>
<circle cx="1635.6" cy="904.4" r="5.3"/>
<circle cx="1418.8" cy="868.1" r="5.3"/>
<circle cx="1418.8" cy="910.5" r="5.3"/>
<circle cx="1616.2" cy="868.1" r="5.3"/>
<circle cx="1616.2" cy="910.5" r="5.3"/>
<circle cx="1421.3" cy="873.7" r="5.3"/>
<circle cx="1421.3" cy="904.9" r="5.3"/>
<circle cx="1613.7" cy="873.7" r="5.3"/>
<circle cx="1613.7" cy="904.9" r="5.3"/>
<circle cx="1465.1" cy="873" r="5.3"/>
<circle cx="1465.1" cy="905.6" r="5.3"/>
<circle cx="1569.9" cy="873" r="5.3"/>
<circle cx="1569.9" cy="905.6" r="5.3"/>
<circle cx="1482.2" cy="873" r="5.3"/>
<circle cx="1482.2" cy="905.6" r="5.3"/>
<circle cx="1552.8" cy="873" r="5.3"/>
<circle cx="1552.8" cy="905.6" r="5.3"/>
<circle cx="1235.4" cy="889.3" r="5.3"/>
<circle cx="1799.6" cy="889.3" r="5.3"/>
<circle cx="1244.7" cy="889.3" r="5.3"/>
<circle cx="1790.3" cy="889.3" r="5.3"/>
<circle cx="1255.6" cy="889.3" r="5.3"/>
<circle cx="1779.4" cy="889.3" r="5.3"/>
<circle cx="1259.8" cy="889.3" r="5.3"/>
<circle cx="1775.2" cy="889.3" r="5.3"/>
<circle cx="1271.5" cy="889.3" r="6.3"/>
<circle cx="1763.5" cy="889.3" r="6.3"/>
<circle cx="1284.9" cy="889.3" r="5.3"/>
<circle cx="1750.1" cy="889.3" r="5.3"/>
<circle cx="1292.9" cy="889.3" r="5.3"/>
<circle cx="1742.1" cy="889.3" r="5.3"/>
<circle cx="1301.9" cy="889.3" r="5.3"/>
<circle cx="1733.1" cy="889.3" r="5.3"/>
<circle cx="1323.6" cy="889.3" r="6.3"/>
<circle cx="1711.4" cy="889.3" r="6.3"/>
<circle cx="1338.9" cy="889.3" r="4.5"/>
<circle cx="1696.1" cy="889.3" r="4.5"/>
<circle cx="1351.8" cy="889.3" r="5.3"/>
<circle cx="1683.2" cy="889.3" r="5.3"/>
<circle cx="1358.4" cy="889.3" r="5.3"/>
<circle cx="1676.6" cy="889.3" r="5.3"/>
<circle cx="1368.1" cy="889.3" r="6.3"/>
<circle cx="1666.9" cy="889.3" r="6.3"/>
<circle cx="1379.1" cy="889.3" r="5.3"/>
<circle cx="1655.9" cy="889.3" r="5.3"/>
<circle cx="1387.2" cy="889.3" r="5.3"/>
<circle cx="1647.8" cy="889.3" r="5.3"/>
<circle cx="1405.4" cy="889.3" r="5.3"/>
<circle cx="1629.6" cy="889.3" r="5.3"/>
<circle cx="1409.8" cy="889.3" r="5.3"/>
<circle cx="1625.2" cy="889.3" r="5.3"/>
<circle cx="1433.4" cy="889.3" r="6.3"/>
<circle cx="1601.6" cy="889.3" r="6.3"/>
<circle cx="1517.5" cy="626" r="4.7"/>
<circle cx="1424.9" cy="641.6" r="4.7"/>
<circle cx="1610.1" cy="641.6" r="4.7"/>
<circle cx="1400.1" cy="647.6" r="4.7"/>
<circle cx="1634.9" cy="647.6" r="4.7"/>
<circle cx="1258.6" cy="769.4" r="4.7"/>
<circle cx="1776.4" cy="769.4" r="4.7"/>
<circle cx="1228.8" cy="889.3" r="4.7"/>
<circle cx="1807.4" cy="889.3" r="4.7"/>
<circle cx="1232.5" cy="859.6" r="4.5"/>
<circle cx="1232.5" cy="919" r="4.5"/>
<circle cx="1802.5" cy="859.6" r="4.5"/>
<circle cx="1802.5" cy="919" r="4.5"/>
<circle cx="1371.3" cy="1103.7" r="4.7"/>
<circle cx="1663.7" cy="1103.7" r="4.7"/>
<circle cx="1277.8" cy="1027.4" r="4.7"/>
<circle cx="1757.2" cy="1027.4" r="4.7"/>
<circle cx="1258.6" cy="1009.2" r="4.7"/>
<circle cx="1776.4" cy="1009.2" r="4.7"/>
<circle cx="1517.5" cy="889.3" r="11.1"/>
</g>
<g fill="#000">
<circle cx="192.5" cy="655.8" r="3.4"/>
<circle cx="192.5" cy="1109.2" r="3.4"/>
<circle cx="420.3" cy="655.8" r="3.4"/>
<circle cx="420.3" cy="1109.2" r="3.4"/>
<circle cx="151.1" cy="675.8" r="3.4"/>
<circle cx="151.1" cy="1089.2" r="3.4"/>
<circle cx="461.7" cy="675.8" r="3.4"/>
<circle cx="461.7" cy="1089.2" r="3.4"/>
<circle cx="190.6" cy="690.4" r="3.4"/>
<circle cx="190.6" cy="1074.6" r="3.4"/>
<circle cx="422.2" cy="690.4" r="3.4"/>
<circle cx="422.2" cy="1074.6" r="3.4"/>
<circle cx="228.4" cy="688.2" r="3.4"/>
<circle cx="228.4" cy="1076.8" r="3.4"/>
<circle cx="384.4" cy="688.2" r="3.4"/>
<circle cx="384.4" cy="1076.8" r="3.4"/>
<circle cx="253.5" cy="670.9" r="2.9"/>
<circle cx="253.5" cy="1094.1" r="2.9"/>
<circle cx="359.3" cy="670.9" r="2.9"/>
<circle cx="359.3" cy="1094.1" r="2.9"/>
<circle cx="306.4" cy="674.6" r="3.4"/>
<circle cx="306.4" cy="1090.4" r="3.4"/>
<circle cx="99.2" cy="727.7" r="3.4"/>
<circle cx="99.2" cy="1037.3" r="3.4"/>
<circle cx="513.6" cy="727.7" r="3.4"/>
<circle cx="513.6" cy="1037.3" r="3.4"/>
<circle cx="280.3" cy="726.5" r="3.4"/>
<circle cx="280.3" cy="1038.5" r="3.4"/>
<circle cx="332.5" cy="726.5" r="3.4"/>
<circle cx="332.5" cy="1038.5" r="3.4"/>
<circle cx="306.4" cy="740.9" r="2.9"/>
<circle cx="306.4" cy="1024.1" r="2.9"/>
<circle cx="306.4" cy="753.3" r="3.4"/>
<circle cx="306.4" cy="1011.7" r="3.4"/>
<circle cx="79.2" cy="769.6" r="3.4"/>
<circle cx="79.2" cy="995.4" r="3.4"/>
<circle cx="533.6" cy="769.6" r="3.4"/>
<circle cx="533.6" cy="995.4" r="3.4"/>
<circle cx="113.6" cy="767.2" r="3.4"/>
<circle cx="113.6" cy="997.8" r="3.4"/>
<circle cx="499.2" cy="767.2" r="3.4"/>
<circle cx="499.2" cy="997.8" r="3.4"/>
<circle cx="111.6" cy="805" r="3.4"/>
<circle cx="111.6" cy="960" r="3.4"/>
<circle cx="501.2" cy="805" r="3.4"/>
<circle cx="501.2" cy="960" r="3.4"/>
<circle cx="94.3" cy="830.1" r="2.9"/>
<circle cx="94.3" cy="934.9" r="2.9"/>
<circle cx="518.5" cy="830.1" r="2.9"/>
<circle cx="518.5" cy="934.9" r="2.9"/>
<circle cx="47.5" cy="839.6" r="3.4"/>
<circle cx="47.5" cy="925.4" r="3.4"/>
<circle cx="565.3" cy="839.6" r="3.4"/>
<circle cx="565.3" cy="925.4" r="3.4"/>
<circle cx="149.9" cy="856.9" r="3.4"/>
<circle cx="149.9" cy="908.1" r="3.4"/>
<circle cx="462.9" cy="856.9" r="3.4"/>
<circle cx="462.9" cy="908.1" r="3.4"/>
<circle cx="47.8" cy="882.5" r="3.4"/>
<circle cx="565" cy="882.5" r="3.4"/>
<circle cx="98" cy="882.5" r="3.4"/>
<circle cx="514.8" cy="882.5" r="3.4"/>
<circle cx="164" cy="882.5" r="2.9"/>
<circle cx="448.8" cy="882.5" r="2.9"/>
<circle cx="176.5" cy="882.5" r="2.9"/>
<circle cx="436.3" cy="882.5" r="2.9"/>
<circle cx="223" cy="882.5" r="4.3"/>
<circle cx="389.8" cy="882.5" r="4.3"/>
<circle cx="306.4" cy="799.6" r="4.3"/>
<circle cx="306.4" cy="965.4" r="4.3"/>
<circle cx="204.2" cy="780.1" r="4.3"/>
<circle cx="204.2" cy="984.9" r="4.3"/>
<circle cx="408.6" cy="780.1" r="4.3"/>
<circle cx="408.6" cy="984.9" r="4.3"/>
<circle cx="216.4" cy="771.3" r="3.4"/>
<circle cx="216.4" cy="993.7" r="3.4"/>
<circle cx="396.4" cy="771.3" r="3.4"/>
<circle cx="396.4" cy="993.7" r="3.4"/>
<circle cx="221.1" cy="769.6" r="2.9"/>
<circle cx="221.1" cy="995.4" r="2.9"/>
<circle cx="391.7" cy="769.6" r="2.9"/>
<circle cx="391.7" cy="995.4" r="2.9"/>
<circle cx="228.6" cy="766.7" r="3.4"/>
<circle cx="228.6" cy="998.3" r="3.4"/>
<circle cx="384.2" cy="766.7" r="3.4"/>
<circle cx="384.2" cy="998.3" r="3.4"/>
<circle cx="247.4" cy="765.3" r="3.4"/>
<circle cx="247.4" cy="999.7" r="3.4"/>
<circle cx="365.4" cy="765.3" r="3.4"/>
<circle cx="365.4" cy="999.7" r="3.4"/>
<circle cx="260.3" cy="767.7" r="2.9"/>
<circle cx="260.3" cy="997.3" r="2.9"/>
<circle cx="352.5" cy="767.7" r="2.9"/>
<circle cx="352.5" cy="997.3" r="2.9"/>
<circle cx="279.1" cy="775.7" r="3.4"/>
<circle cx="279.1" cy="989.3" r="3.4"/>
<circle cx="333.7" cy="775.7" r="3.4"/>
<circle cx="333.7" cy="989.3" r="3.4"/>
<circle cx="285.6" cy="779.4" r="3.4"/>
<circle cx="285.6" cy="985.6" r="3.4"/>
<circle cx="327.2" cy="779.4" r="3.4"/>
<circle cx="327.2" cy="985.6" r="3.4"/>
<circle cx="194.5" cy="792.8" r="3.4"/>
<circle cx="194.5" cy="972.2" r="3.4"/>
<circle cx="418.3" cy="792.8" r="3.4"/>
<circle cx="418.3" cy="972.2" r="3.4"/>
<circle cx="193" cy="797.7" r="2.9"/>
<circle cx="193" cy="967.3" r="2.9"/>
<circle cx="419.8" cy="797.7" r="2.9"/>
<circle cx="419.8" cy="967.3" r="2.9"/>
<circle cx="190.1" cy="805" r="3.4"/>
<circle cx="190.1" cy="960" r="3.4"/>
<circle cx="422.7" cy="805" r="3.4"/>
<circle cx="422.7" cy="960" r="3.4"/>
<circle cx="188.9" cy="824" r="3.4"/>
<circle cx="188.9" cy="941" r="3.4"/>
<circle cx="423.9" cy="824" r="3.4"/>
<circle cx="423.9" cy="941" r="3.4"/>
<circle cx="190.8" cy="836.7" r="2.9"/>
<circle cx="190.8" cy="928.3" r="2.9"/>
<circle cx="422" cy="836.7" r="2.9"/>
<circle cx="422" cy="928.3" r="2.9"/>
<circle cx="198.6" cy="855.4" r="3.4"/>
<circle cx="198.6" cy="909.6" r="3.4"/>
<circle cx="414.2" cy="855.4" r="3.4"/>
<circle cx="414.2" cy="909.6" r="3.4"/>
<circle cx="202.8" cy="862.3" r="3.4"/>
<circle cx="202.8" cy="902.7" r="3.4"/>
<circle cx="410" cy="862.3" r="3.4"/>
<circle cx="410" cy="902.7" r="3.4"/>
<circle cx="255.9" cy="815.9" r="3.4"/>
<circle cx="255.9" cy="949.1" r="3.4"/>
<circle cx="356.9" cy="815.9" r="3.4"/>
<circle cx="356.9" cy="949.1" r="3.4"/>
<circle cx="274.2" cy="818.4" r="3.4"/>
<circle cx="274.2" cy="946.6" r="3.4"/>
<circle cx="338.6" cy="818.4" r="3.4"/>
<circle cx="338.6" cy="946.6" r="3.4"/>
<circle cx="269.8" cy="828.4" r="2.9"/>
<circle cx="269.8" cy="936.6" r="2.9"/>
<circle cx="343" cy="828.4" r="2.9"/>
<circle cx="343" cy="936.6" r="2.9"/>
<circle cx="239.6" cy="832.5" r="3.4"/>
<circle cx="239.6" cy="932.5" r="3.4"/>
<circle cx="373.2" cy="832.5" r="3.4"/>
<circle cx="373.2" cy="932.5" r="3.4"/>
<circle cx="291.2" cy="837.9" r="3.4"/>
<circle cx="291.2" cy="927.1" r="3.4"/>
<circle cx="321.6" cy="837.9" r="3.4"/>
<circle cx="321.6" cy="927.1" r="3.4"/>
<circle cx="242" cy="850.8" r="3.4"/>
<circle cx="242" cy="914.2" r="3.4"/>
<circle cx="370.8" cy="850.8" r="3.4"/>
<circle cx="370.8" cy="914.2" r="3.4"/>
<circle cx="251.8" cy="846.4" r="2.9"/>
<circle cx="251.8" cy="918.6" r="2.9"/>
<circle cx="361" cy="846.4" r="2.9"/>
<circle cx="361" cy="918.6" r="2.9"/>
<circle cx="291.7" cy="853.7" r="3.4"/>
<circle cx="291.7" cy="911.3" r="3.4"/>
<circle cx="321.1" cy="853.7" r="3.4"/>
<circle cx="321.1" cy="911.3" r="3.4"/>
<circle cx="261.3" cy="867.6" r="3.4"/>
<circle cx="261.3" cy="897.4" r="3.4"/>
<circle cx="351.5" cy="867.6" r="3.4"/>
<circle cx="351.5" cy="897.4" r="3.4"/>
<circle cx="277.1" cy="868.3" r="3.4"/>
<circle cx="277.1" cy="896.7" r="3.4"/>
<circle cx="335.7" cy="868.3" r="3.4"/>
<circle cx="335.7" cy="896.7" r="3.4"/>
<circle cx="306.4" cy="882.5" r="8.3"/>
<g fill="#666">
<circle cx="305.9" cy="625" r="3"/>
<circle cx="306.3" cy="1141.6" r="3"/>
</g><g fill="#ddd">
<circle cx="263.4" cy="625" r="2.5"/>
<circle cx="263.4" cy="1141" r="2.5"/>
<circle cx="349.4" cy="625" r="2.5"/>
<circle cx="349.4" cy="1141" r="2.5"/>
</g>
<circle cx="906.8" cy="1119.1" r="3.4"/>
<circle cx="906.8" cy="639.1" r="3.4"/>
<circle cx="1146.8" cy="879.1" r="3.4"/>
<circle cx="666.8" cy="879.1" r="3.4"/>
<circle cx="906.8" cy="1071.7" r="4.4"/>
<circle cx="906.8" cy="686.5" r="4.4"/>
<circle cx="1099.4" cy="879.1" r="4.4"/>
<circle cx="714.2" cy="879.1" r="4.4"/>
<circle cx="906.8" cy="1041.1" r="3.4"/>
<circle cx="906.8" cy="717.1" r="3.4"/>
<circle cx="1068.8" cy="879.1" r="3.4"/>
<circle cx="744.8" cy="879.1" r="3.4"/>
<circle cx="906.8" cy="1003.9" r="4.4"/>
<circle cx="906.8" cy="754.3" r="4.4"/>
<circle cx="1031.6" cy="879.1" r="4.4"/>
<circle cx="782" cy="879.1" r="4.4"/>
<circle cx="906.8" cy="981.4" r="2.7"/>
<circle cx="906.8" cy="776.8" r="2.7"/>
<circle cx="1009.1" cy="879.1" r="2.7"/>
<circle cx="804.5" cy="879.1" r="2.7"/>
<circle cx="906.8" cy="973.5" r="3.4"/>
<circle cx="906.8" cy="784.7" r="3.4"/>
<circle cx="1001.2" cy="879.1" r="3.4"/>
<circle cx="812.4" cy="879.1" r="3.4"/>
<circle cx="906.8" cy="955.6" r="3.4"/>
<circle cx="906.8" cy="802.6" r="3.4"/>
<circle cx="983.3" cy="879.1" r="3.4"/>
<circle cx="830.3" cy="879.1" r="3.4"/>
<circle cx="906.8" cy="943.8" r="3.4"/>
<circle cx="906.8" cy="814.4" r="3.4"/>
<circle cx="971.5" cy="879.1" r="3.4"/>
<circle cx="842.1" cy="879.1" r="3.4"/>
<circle cx="906.8" cy="935.5" r="3.4"/>
<circle cx="906.8" cy="822.7" r="3.4"/>
<circle cx="963.2" cy="879.1" r="3.4"/>
<circle cx="850.4" cy="879.1" r="3.4"/>
<circle cx="906.8" cy="924" r="3.4"/>
<circle cx="906.8" cy="834.2" r="3.4"/>
<circle cx="951.7" cy="879.1" r="3.4"/>
<circle cx="861.9" cy="879.1" r="3.4"/>
<circle cx="906.8" cy="916.3" r="3.4"/>
<circle cx="906.8" cy="841.9" r="3.4"/>
<circle cx="944" cy="879.1" r="3.4"/>
<circle cx="869.6" cy="879.1" r="3.4"/>
<circle cx="906.8" cy="911.9" r="3.4"/>
<circle cx="906.8" cy="846.3" r="3.4"/>
<circle cx="939.6" cy="879.1" r="3.4"/>
<circle cx="874" cy="879.1" r="3.4"/>
<circle cx="906.8" cy="907.3" r="3.4"/>
<circle cx="906.8" cy="850.9" r="3.4"/>
<circle cx="935" cy="879.1" r="3.4"/>
<circle cx="878.6" cy="879.1" r="3.4"/>
<circle cx="966.3" cy="1117.1" r="3.4"/>
<circle cx="966.3" cy="641.1" r="3.4"/>
<circle cx="847.3" cy="1117.1" r="3.4"/>
<circle cx="847.3" cy="641.1" r="3.4"/>
<circle cx="1144.8" cy="938.6" r="3.4"/>
<circle cx="1144.8" cy="819.6" r="3.4"/>
<circle cx="668.8" cy="938.6" r="3.4"/>
<circle cx="668.8" cy="819.6" r="3.4"/>
<circle cx="1046.4" cy="1088.2" r="3.4"/>
<circle cx="1046.4" cy="670" r="3.4"/>
<circle cx="767.2" cy="1088.2" r="3.4"/>
<circle cx="767.2" cy="670" r="3.4"/>
<circle cx="1115.9" cy="1018.7" r="3.4"/>
<circle cx="1115.9" cy="739.5" r="3.4"/>
<circle cx="697.7" cy="1018.7" r="3.4"/>
<circle cx="697.7" cy="739.5" r="3.4"/>
<circle cx="991.7" cy="1049.1" r="3.4"/>
<circle cx="991.7" cy="709.1" r="3.4"/>
<circle cx="821.9" cy="1049.1" r="3.4"/>
<circle cx="821.9" cy="709.1" r="3.4"/>
<circle cx="1076.8" cy="964" r="3.4"/>
<circle cx="1076.8" cy="794.2" r="3.4"/>
<circle cx="736.8" cy="964" r="3.4"/>
<circle cx="736.8" cy="794.2" r="3.4"/>
<circle cx="1004.8" cy="1026" r="3.4"/>
<circle cx="1004.8" cy="732.2" r="3.4"/>
<circle cx="808.8" cy="1026" r="3.4"/>
<circle cx="808.8" cy="732.2" r="3.4"/>
<circle cx="1053.7" cy="977.1" r="3.4"/>
<circle cx="1053.7" cy="781.1" r="3.4"/>
<circle cx="759.9" cy="977.1" r="3.4"/>
<circle cx="759.9" cy="781.1" r="3.4"/>
<circle cx="955.8" cy="1026.2" r="3.4"/>
<circle cx="955.8" cy="732" r="3.4"/>
<circle cx="857.8" cy="1026.2" r="3.4"/>
<circle cx="857.8" cy="732" r="3.4"/>
<circle cx="1053.9" cy="928.1" r="3.4"/>
<circle cx="1053.9" cy="830.1" r="3.4"/>
<circle cx="759.7" cy="928.1" r="3.4"/>
<circle cx="759.7" cy="830.1" r="3.4"/>
<circle cx="964.3" cy="993.9" r="3.4"/>
<circle cx="964.3" cy="764.3" r="3.4"/>
<circle cx="849.3" cy="993.9" r="3.4"/>
<circle cx="849.3" cy="764.3" r="3.4"/>
<circle cx="1021.6" cy="936.6" r="3.4"/>
<circle cx="1021.6" cy="821.6" r="3.4"/>
<circle cx="792" cy="936.6" r="3.4"/>
<circle cx="792" cy="821.6" r="3.4"/>
<circle cx="950.7" cy="967.1" r="3.4"/>
<circle cx="950.7" cy="791.1" r="3.4"/>
<circle cx="862.9" cy="967.1" r="3.4"/>
<circle cx="862.9" cy="791.1" r="3.4"/>
<circle cx="994.8" cy="923" r="3.4"/>
<circle cx="994.8" cy="835.2" r="3.4"/>
<circle cx="818.8" cy="923" r="3.4"/>
<circle cx="818.8" cy="835.2" r="3.4"/>
<circle cx="942.9" cy="951.5" r="3.4"/>
<circle cx="942.9" cy="806.7" r="3.4"/>
<circle cx="870.7" cy="951.5" r="3.4"/>
<circle cx="870.7" cy="806.7" r="3.4"/>
<circle cx="979.2" cy="915.2" r="3.4"/>
<circle cx="979.2" cy="843" r="3.4"/>
<circle cx="834.4" cy="915.2" r="3.4"/>
<circle cx="834.4" cy="843" r="3.4"/>
<circle cx="937.6" cy="940.6" r="2.7"/>
<circle cx="937.6" cy="817.6" r="2.7"/>
<circle cx="876" cy="940.6" r="2.7"/>
<circle cx="876" cy="817.6" r="2.7"/>
<circle cx="968.3" cy="909.9" r="2.7"/>
<circle cx="968.3" cy="848.3" r="2.7"/>
<circle cx="845.3" cy="909.9" r="2.7"/>
<circle cx="845.3" cy="848.3" r="2.7"/>
<circle cx="1026.4" cy="998.7" r="4.4"/>
<circle cx="1026.4" cy="759.5" r="4.4"/>
<circle cx="787.2" cy="998.7" r="4.4"/>
<circle cx="787.2" cy="759.5" r="4.4"/>
<circle cx="979.6" cy="951.9" r="3.4"/>
<circle cx="979.6" cy="806.3" r="3.4"/>
<circle cx="834" cy="951.9" r="3.4"/>
<circle cx="834" cy="806.3" r="3.4"/>
<circle cx="960.1" cy="932.4" r="3.4"/>
<circle cx="960.1" cy="825.8" r="3.4"/>
<circle cx="853.5" cy="932.4" r="3.4"/>
<circle cx="853.5" cy="825.8" r="3.4"/>
<circle cx="942.3" cy="914.6" r="3.4"/>
<circle cx="942.3" cy="843.6" r="3.4"/>
<circle cx="871.3" cy="914.6" r="3.4"/>
<circle cx="871.3" cy="843.6" r="3.4"/>
<circle cx="933.8" cy="906.1" r="3.4"/>
<circle cx="933.8" cy="852.1" r="3.4"/>
<circle cx="879.8" cy="906.1" r="3.4"/>
<circle cx="879.8" cy="852.1" r="3.4"/>
<circle cx="906.8" cy="879.1" r="4.8"/>
<circle cx="1457.3" cy="660.3" r="3.8"/>
<circle cx="1457.3" cy="1118.3" r="3.8"/>
<circle cx="1577.7" cy="660.3" r="3.8"/>
<circle cx="1577.7" cy="1118.3" r="3.8"/>
<circle cx="1371.3" cy="674.9" r="4.8"/>
<circle cx="1663.7" cy="674.9" r="4.8"/>
<circle cx="1485.8" cy="700.5" r="3.8"/>
<circle cx="1485.8" cy="1078.1" r="3.8"/>
<circle cx="1549.2" cy="700.5" r="3.8"/>
<circle cx="1549.2" cy="1078.1" r="3.8"/>
<circle cx="1437.1" cy="705.6" r="3.8"/>
<circle cx="1437.1" cy="1073" r="3.8"/>
<circle cx="1597.9" cy="705.6" r="3.8"/>
<circle cx="1597.9" cy="1073" r="3.8"/>
<circle cx="1517.5" cy="710.3" r="3"/>
<circle cx="1517.5" cy="1068.3" r="3"/>
<circle cx="1517.5" cy="726.1" r="3.8"/>
<circle cx="1517.5" cy="1052.5" r="3.8"/>
<circle cx="1416.4" cy="714.1" r="3.8"/>
<circle cx="1416.4" cy="1064.5" r="3.8"/>
<circle cx="1618.6" cy="714.1" r="3.8"/>
<circle cx="1618.6" cy="1064.5" r="3.8"/>
<circle cx="1344.1" cy="723.2" r="4.8"/>
<circle cx="1344.1" cy="1055.4" r="4.8"/>
<circle cx="1690.9" cy="723.2" r="4.8"/>
<circle cx="1690.9" cy="1055.4" r="4.8"/>
<circle cx="1305.1" cy="732.9" r="3.8"/>
<circle cx="1305.1" cy="1045.7" r="3.8"/>
<circle cx="1729.9" cy="732.9" r="3.8"/>
<circle cx="1729.9" cy="1045.7" r="3.8"/>
<circle cx="1336.5" cy="742.2" r="3.8"/>
<circle cx="1336.5" cy="1036.4" r="3.8"/>
<circle cx="1698.5" cy="742.2" r="3.8"/>
<circle cx="1698.5" cy="1036.4" r="3.8"/>
<circle cx="1367.2" cy="745.1" r="3.8"/>
<circle cx="1367.2" cy="1033.5" r="3.8"/>
<circle cx="1667.8" cy="745.1" r="3.8"/>
<circle cx="1667.8" cy="1033.5" r="3.8"/>
<circle cx="1392" cy="739" r="3.8"/>
<circle cx="1392" cy="1039.6" r="3.8"/>
<circle cx="1643" cy="739" r="3.8"/>
<circle cx="1643" cy="1039.6" r="3.8"/>
<circle cx="1415.2" cy="742.7" r="3.8"/>
<circle cx="1415.2" cy="1035.9" r="3.8"/>
<circle cx="1619.8" cy="742.7" r="3.8"/>
<circle cx="1619.8" cy="1035.9" r="3.8"/>
<circle cx="1277.8" cy="751.2" r="3.8"/>
<circle cx="1757.2" cy="751.2" r="3.8"/>
<circle cx="1400.1" cy="761.4" r="3.8"/>
<circle cx="1400.1" cy="1017.2" r="3.8"/>
<circle cx="1634.9" cy="761.4" r="3.8"/>
<circle cx="1634.9" cy="1017.2" r="3.8"/>
<circle cx="1452.5" cy="766.5" r="3.8"/>
<circle cx="1452.5" cy="1012.1" r="3.8"/>
<circle cx="1582.5" cy="766.5" r="3.8"/>
<circle cx="1582.5" cy="1012.1" r="3.8"/>
<circle cx="1463.9" cy="761.4" r="3"/>
<circle cx="1463.9" cy="1017.2" r="3"/>
<circle cx="1571.1" cy="761.4" r="3"/>
<circle cx="1571.1" cy="1017.2" r="3"/>
<circle cx="1484.6" cy="760.2" r="3.8"/>
<circle cx="1484.6" cy="1018.4" r="3.8"/>
<circle cx="1550.4" cy="760.2" r="3.8"/>
<circle cx="1550.4" cy="1018.4" r="3.8"/>
<circle cx="1492.4" cy="762.9" r="3.8"/>
<circle cx="1492.4" cy="1015.7" r="3.8"/>
<circle cx="1542.6" cy="762.9" r="3.8"/>
<circle cx="1542.6" cy="1015.7" r="3.8"/>
<circle cx="1517.5" cy="784.5" r="4.8"/>
<circle cx="1517.5" cy="994.1" r="4.8"/>
<circle cx="1301.4" cy="786.5" r="3.8"/>
<circle cx="1301.4" cy="992.1" r="3.8"/>
<circle cx="1733.6" cy="786.5" r="3.8"/>
<circle cx="1733.6" cy="992.1" r="3.8"/>
<circle cx="1324.3" cy="780.7" r="3.8"/>
<circle cx="1324.3" cy="997.9" r="3.8"/>
<circle cx="1710.7" cy="780.7" r="3.8"/>
<circle cx="1710.7" cy="997.9" r="3.8"/>
<circle cx="1352.6" cy="779.7" r="3.8"/>
<circle cx="1352.6" cy="998.9" r="3.8"/>
<circle cx="1682.4" cy="779.7" r="3.8"/>
<circle cx="1682.4" cy="998.9" r="3.8"/>
<circle cx="1368.9" cy="782.1" r="3"/>
<circle cx="1368.9" cy="996.5" r="3"/>
<circle cx="1666.1" cy="782.1" r="3"/>
<circle cx="1666.1" cy="996.5" r="3"/>
<circle cx="1437.1" cy="779.9" r="3.8"/>
<circle cx="1437.1" cy="998.7" r="3.8"/>
<circle cx="1597.9" cy="779.9" r="3.8"/>
<circle cx="1597.9" cy="998.7" r="3.8"/>
<circle cx="1430.3" cy="786.5" r="3.8"/>
<circle cx="1430.3" cy="992.1" r="3.8"/>
<circle cx="1604.7" cy="786.5" r="3.8"/>
<circle cx="1604.7" cy="992.1" r="3.8"/>
<circle cx="1429.1" cy="790.6" r="3.8"/>
<circle cx="1429.1" cy="988" r="3.8"/>
<circle cx="1605.9" cy="790.6" r="3.8"/>
<circle cx="1605.9" cy="988" r="3.8"/>
<circle cx="1269.5" cy="802.6" r="4.8"/>
<circle cx="1269.5" cy="976" r="4.8"/>
<circle cx="1765.5" cy="802.6" r="4.8"/>
<circle cx="1765.5" cy="976" r="4.8"/>
<circle cx="1422" cy="805.5" r="4.8"/>
<circle cx="1422" cy="973.1" r="4.8"/>
<circle cx="1613" cy="805.5" r="4.8"/>
<circle cx="1613" cy="973.1" r="4.8"/>
<circle cx="1338.4" cy="807.2" r="3.8"/>
<circle cx="1338.4" cy="971.4" r="3.8"/>
<circle cx="1696.6" cy="807.2" r="3.8"/>
<circle cx="1696.6" cy="971.4" r="3.8"/>
<circle cx="1361" cy="807.9" r="3.8"/>
<circle cx="1361" cy="970.7" r="3.8"/>
<circle cx="1674" cy="807.9" r="3.8"/>
<circle cx="1674" cy="970.7" r="3.8"/>
<circle cx="1344.1" cy="816.2" r="3.8"/>
<circle cx="1344.1" cy="962.4" r="3.8"/>
<circle cx="1690.9" cy="816.2" r="3.8"/>
<circle cx="1690.9" cy="962.4" r="3.8"/>
<circle cx="1387" cy="813.3" r="3.8"/>
<circle cx="1387" cy="965.3" r="3.8"/>
<circle cx="1648" cy="813.3" r="3.8"/>
<circle cx="1648" cy="965.3" r="3.8"/>
<circle cx="1376.2" cy="819.4" r="3"/>
<circle cx="1376.2" cy="959.2" r="3"/>
<circle cx="1658.8" cy="819.4" r="3"/>
<circle cx="1658.8" cy="959.2" r="3"/>
<circle cx="1417.1" cy="819.4" r="3.8"/>
<circle cx="1417.1" cy="959.2" r="3.8"/>
<circle cx="1617.9" cy="819.4" r="3.8"/>
<circle cx="1617.9" cy="959.2" r="3.8"/>
<circle cx="1416.4" cy="824.3" r="3.8"/>
<circle cx="1416.4" cy="954.3" r="3.8"/>
<circle cx="1618.6" cy="824.3" r="3.8"/>
<circle cx="1618.6" cy="954.3" r="3.8"/>
<circle cx="1241.7" cy="821.8" r="3.8"/>
<circle cx="1241.7" cy="956.8" r="3.8"/>
<circle cx="1793.3" cy="821.8" r="3.8"/>
<circle cx="1793.3" cy="956.8" r="3.8"/>
<circle cx="1296.3" cy="822.6" r="3"/>
<circle cx="1296.3" cy="956" r="3"/>
<circle cx="1738.7" cy="822.6" r="3"/>
<circle cx="1738.7" cy="956" r="3"/>
<circle cx="1317.3" cy="818.2" r="3.8"/>
<circle cx="1317.3" cy="960.4" r="3.8"/>
<circle cx="1717.7" cy="818.2" r="3.8"/>
<circle cx="1717.7" cy="960.4" r="3.8"/>
<circle cx="1279.9" cy="827.4" r="3.8"/>
<circle cx="1279.9" cy="951.2" r="3.8"/>
<circle cx="1755.1" cy="827.4" r="3.8"/>
<circle cx="1755.1" cy="951.2" r="3.8"/>
<circle cx="1460.3" cy="816.9" r="3.8"/>
<circle cx="1460.3" cy="961.7" r="3.8"/>
<circle cx="1574.7" cy="816.9" r="3.8"/>
<circle cx="1574.7" cy="961.7" r="3.8"/>
<circle cx="1479.3" cy="814.5" r="3.8"/>
<circle cx="1479.3" cy="964.1" r="3.8"/>
<circle cx="1555.7" cy="814.5" r="3.8"/>
<circle cx="1555.7" cy="964.1" r="3.8"/>
<circle cx="1474.4" cy="826.7" r="3.8"/>
<circle cx="1474.4" cy="951.9" r="3.8"/>
<circle cx="1560.6" cy="826.7" r="3.8"/>
<circle cx="1560.6" cy="951.9" r="3.8"/>
<circle cx="1390.8" cy="829.9" r="3.8"/>
<circle cx="1390.8" cy="948.7" r="3.8"/>
<circle cx="1644.2" cy="829.9" r="3.8"/>
<circle cx="1644.2" cy="948.7" r="3.8"/>
<circle cx="1415.2" cy="831.1" r="3.8"/>
<circle cx="1415.2" cy="947.5" r="3.8"/>
<circle cx="1619.8" cy="831.1" r="3.8"/>
<circle cx="1619.8" cy="947.5" r="3.8"/>
<circle cx="1315.3" cy="836.4" r="3"/>
<circle cx="1315.3" cy="942.2" r="3"/>
<circle cx="1719.7" cy="836.4" r="3"/>
<circle cx="1719.7" cy="942.2" r="3"/>
<circle cx="1334.8" cy="834.7" r="3"/>
<circle cx="1334.8" cy="943.9" r="3"/>
<circle cx="1700.2" cy="834.7" r="3"/>
<circle cx="1700.2" cy="943.9" r="3"/>
<circle cx="1357.5" cy="835.2" r="3.8"/>
<circle cx="1357.5" cy="943.4" r="3.8"/>
<circle cx="1677.5" cy="835.2" r="3.8"/>
<circle cx="1677.5" cy="943.4" r="3.8"/>
<circle cx="1287.3" cy="842" r="3.8"/>
<circle cx="1287.3" cy="936.6" r="3.8"/>
<circle cx="1747.7" cy="842" r="3.8"/>
<circle cx="1747.7" cy="936.6" r="3.8"/>
<circle cx="1379.9" cy="838.1" r="3.8"/>
<circle cx="1379.9" cy="940.5" r="3.8"/>
<circle cx="1655.1" cy="838.1" r="3.8"/>
<circle cx="1655.1" cy="940.5" r="3.8"/>
<circle cx="1445.6" cy="839.6" r="3.8"/>
<circle cx="1445.6" cy="939" r="3.8"/>
<circle cx="1589.4" cy="839.6" r="3.8"/>
<circle cx="1589.4" cy="939" r="3.8"/>
<circle cx="1499.2" cy="834.5" r="3.8"/>
<circle cx="1499.2" cy="944.1" r="3.8"/>
<circle cx="1535.8" cy="834.5" r="3.8"/>
<circle cx="1535.8" cy="944.1" r="3.8"/>
<circle cx="1267.1" cy="846.9" r="3.8"/>
<circle cx="1267.1" cy="931.7" r="3.8"/>
<circle cx="1767.9" cy="846.9" r="3.8"/>
<circle cx="1767.9" cy="931.7" r="3.8"/>
<circle cx="1341.1" cy="845.7" r="3"/>
<circle cx="1341.1" cy="932.9" r="3"/>
<circle cx="1693.9" cy="845.7" r="3"/>
<circle cx="1693.9" cy="932.9" r="3"/>
<circle cx="1361.2" cy="846.9" r="3"/>
<circle cx="1361.2" cy="931.7" r="3"/>
<circle cx="1673.8" cy="846.9" r="3"/>
<circle cx="1673.8" cy="931.7" r="3"/>
<circle cx="1391.3" cy="849.8" r="3.8"/>
<circle cx="1391.3" cy="928.8" r="3.8"/>
<circle cx="1643.7" cy="849.8" r="3.8"/>
<circle cx="1643.7" cy="928.8" r="3.8"/>
<circle cx="1414.7" cy="845.7" r="3.8"/>
<circle cx="1414.7" cy="932.9" r="3.8"/>
<circle cx="1620.3" cy="845.7" r="3.8"/>
<circle cx="1620.3" cy="932.9" r="3.8"/>
<circle cx="1252.5" cy="851.8" r="3.8"/>
<circle cx="1252.5" cy="926.8" r="3.8"/>
<circle cx="1782.5" cy="851.8" r="3.8"/>
<circle cx="1782.5" cy="926.8" r="3.8"/>
<circle cx="1241.7" cy="855.9" r="4.8"/>
<circle cx="1241.7" cy="922.7" r="4.8"/>
<circle cx="1793.3" cy="855.9" r="4.8"/>
<circle cx="1793.3" cy="922.7" r="4.8"/>
<circle cx="1316.5" cy="853.5" r="3.8"/>
<circle cx="1316.5" cy="925.1" r="3.8"/>
<circle cx="1718.5" cy="853.5" r="3.8"/>
<circle cx="1718.5" cy="925.1" r="3.8"/>
<circle cx="1376.9" cy="854.7" r="3.8"/>
<circle cx="1376.9" cy="923.9" r="3.8"/>
<circle cx="1658.1" cy="854.7" r="3.8"/>
<circle cx="1658.1" cy="923.9" r="3.8"/>
<circle cx="1415.2" cy="855.2" r="3"/>
<circle cx="1415.2" cy="923.4" r="3"/>
<circle cx="1619.8" cy="855.2" r="3"/>
<circle cx="1619.8" cy="923.4" r="3"/>
<circle cx="1456.1" cy="851.5" r="3"/>
<circle cx="1456.1" cy="927.1" r="3"/>
<circle cx="1578.9" cy="851.5" r="3"/>
<circle cx="1578.9" cy="927.1" r="3"/>
<circle cx="1447.6" cy="857.9" r="3.8"/>
<circle cx="1447.6" cy="920.7" r="3.8"/>
<circle cx="1587.4" cy="857.9" r="3.8"/>
<circle cx="1587.4" cy="920.7" r="3.8"/>
<circle cx="1499.7" cy="854.2" r="3.8"/>
<circle cx="1499.7" cy="924.4" r="3.8"/>
<circle cx="1535.3" cy="854.2" r="3.8"/>
<circle cx="1535.3" cy="924.4" r="3.8"/>
<circle cx="1279.9" cy="859.1" r="3.8"/>
<circle cx="1279.9" cy="919.5" r="3.8"/>
<circle cx="1755.1" cy="859.1" r="3.8"/>
<circle cx="1755.1" cy="919.5" r="3.8"/>
<circle cx="1301.4" cy="864.5" r="3.8"/>
<circle cx="1301.4" cy="914.1" r="3.8"/>
<circle cx="1733.6" cy="864.5" r="3.8"/>
<circle cx="1733.6" cy="914.1" r="3.8"/>
<circle cx="1317.3" cy="863.7" r="3.8"/>
<circle cx="1317.3" cy="914.9" r="3.8"/>
<circle cx="1717.7" cy="863.7" r="3.8"/>
<circle cx="1717.7" cy="914.9" r="3.8"/>
<circle cx="1336.3" cy="862" r="3"/>
<circle cx="1336.3" cy="916.6" r="3"/>
<circle cx="1698.7" cy="862" r="3"/>
<circle cx="1698.7" cy="916.6" r="3"/>
<circle cx="1333.1" cy="868.6" r="3.8"/>
<circle cx="1333.1" cy="910" r="3.8"/>
<circle cx="1701.9" cy="868.6" r="3.8"/>
<circle cx="1701.9" cy="910" r="3.8"/>
<circle cx="1359.1" cy="863.2" r="3.8"/>
<circle cx="1359.1" cy="915.4" r="3.8"/>
<circle cx="1675.9" cy="863.2" r="3.8"/>
<circle cx="1675.9" cy="915.4" r="3.8"/>
<circle cx="1370.4" cy="868.8" r="3.8"/>
<circle cx="1370.4" cy="909.8" r="3.8"/>
<circle cx="1664.6" cy="868.8" r="3.8"/>
<circle cx="1664.6" cy="909.8" r="3.8"/>
<circle cx="1379.1" cy="872.5" r="3.8"/>
<circle cx="1379.1" cy="906.1" r="3.8"/>
<circle cx="1655.9" cy="872.5" r="3.8"/>
<circle cx="1655.9" cy="906.1" r="3.8"/>
<circle cx="1386.5" cy="864.9" r="3"/>
<circle cx="1386.5" cy="913.7" r="3"/>
<circle cx="1648.5" cy="864.9" r="3"/>
<circle cx="1648.5" cy="913.7" r="3"/>
<circle cx="1399.4" cy="874.2" r="3.8"/>
<circle cx="1399.4" cy="904.4" r="3.8"/>
<circle cx="1635.6" cy="874.2" r="3.8"/>
<circle cx="1635.6" cy="904.4" r="3.8"/>
<circle cx="1418.8" cy="868.1" r="3.8"/>
<circle cx="1418.8" cy="910.5" r="3.8"/>
<circle cx="1616.2" cy="868.1" r="3.8"/>
<circle cx="1616.2" cy="910.5" r="3.8"/>
<circle cx="1421.3" cy="873.7" r="3.8"/>
<circle cx="1421.3" cy="904.9" r="3.8"/>
<circle cx="1613.7" cy="873.7" r="3.8"/>
<circle cx="1613.7" cy="904.9" r="3.8"/>
<circle cx="1465.1" cy="873" r="3.8"/>
<circle cx="1465.1" cy="905.6" r="3.8"/>
<circle cx="1569.9" cy="873" r="3.8"/>
<circle cx="1569.9" cy="905.6" r="3.8"/>
<circle cx="1482.2" cy="873" r="3.8"/>
<circle cx="1482.2" cy="905.6" r="3.8"/>
<circle cx="1552.8" cy="873" r="3.8"/>
<circle cx="1552.8" cy="905.6" r="3.8"/>
<circle cx="1235.4" cy="889.3" r="3.8"/>
<circle cx="1799.6" cy="889.3" r="3.8"/>
<circle cx="1244.7" cy="889.3" r="3.8"/>
<circle cx="1790.3" cy="889.3" r="3.8"/>
<circle cx="1255.6" cy="889.3" r="3.8"/>
<circle cx="1779.4" cy="889.3" r="3.8"/>
<circle cx="1259.8" cy="889.3" r="3.8"/>
<circle cx="1775.2" cy="889.3" r="3.8"/>
<circle cx="1271.5" cy="889.3" r="4.8"/>
<circle cx="1763.5" cy="889.3" r="4.8"/>
<circle cx="1284.9" cy="889.3" r="3.8"/>
<circle cx="1750.1" cy="889.3" r="3.8"/>
<circle cx="1292.9" cy="889.3" r="3.8"/>
<circle cx="1742.1" cy="889.3" r="3.8"/>
<circle cx="1301.9" cy="889.3" r="3.8"/>
<circle cx="1733.1" cy="889.3" r="3.8"/>
<circle cx="1323.6" cy="889.3" r="4.8"/>
<circle cx="1711.4" cy="889.3" r="4.8"/>
<circle cx="1338.9" cy="889.3" r="3"/>
<circle cx="1696.1" cy="889.3" r="3"/>
<circle cx="1351.8" cy="889.3" r="3.8"/>
<circle cx="1683.2" cy="889.3" r="3.8"/>
<circle cx="1358.4" cy="889.3" r="3.8"/>
<circle cx="1676.6" cy="889.3" r="3.8"/>
<circle cx="1368.1" cy="889.3" r="4.8"/>
<circle cx="1666.9" cy="889.3" r="4.8"/>
<circle cx="1379.1" cy="889.3" r="3.8"/>
<circle cx="1655.9" cy="889.3" r="3.8"/>
<circle cx="1387.2" cy="889.3" r="3.8"/>
<circle cx="1647.8" cy="889.3" r="3.8"/>
<circle cx="1405.4" cy="889.3" r="3.8"/>
<circle cx="1629.6" cy="889.3" r="3.8"/>
<circle cx="1409.8" cy="889.3" r="3.8"/>
<circle cx="1625.2" cy="889.3" r="3.8"/>
<circle cx="1433.4" cy="889.3" r="4.8"/>
<circle cx="1601.6" cy="889.3" r="4.8"/>
<g fill="#555" opacity="0.75">
<circle cx="1517.5" cy="626" r="3.2"/>
<circle cx="1424.9" cy="641.6" r="3.2"/>
<circle cx="1610.1" cy="641.6" r="3.2"/>
<circle cx="1400.1" cy="647.6" r="3.2"/>
<circle cx="1634.9" cy="647.6" r="3.2"/>
<circle cx="1258.6" cy="769.4" r="3.2"/>
<circle cx="1776.4" cy="769.4" r="3.2"/>
<circle cx="1228.8" cy="889.3" r="3.2"/>
<circle cx="1807.4" cy="889.3" r="3.2"/>
</g><g fill="#333" opacity="0.85">
<circle cx="1232.5" cy="859.6" r="3"/>
<circle cx="1232.5" cy="919" r="3"/>
<circle cx="1802.5" cy="859.6" r="3"/>
<circle cx="1802.5" cy="919" r="3"/>
</g><g fill="#999" opacity="0.6">
<circle cx="1371.3" cy="1103.7" r="3.2"/>
<circle cx="1663.7" cy="1103.7" r="3.2"/>
<circle cx="1277.8" cy="1027.4" r="3.2"/>
<circle cx="1757.2" cy="1027.4" r="3.2"/>
<circle cx="1258.6" cy="1009.2" r="3.2"/>
<circle cx="1776.4" cy="1009.2" r="3.2"/>
</g>
<circle cx="1517.5" cy="889.3" r="9.6"/>
</g>
<rect x="1185" y="640" width="161" height="40" fill="#fff"/>
<text x="52.4" y="678.7" font-family="'Liberation Serif', 'Times New Roman', serif" font-weight="bold" font-size="30.5" fill="#000">Front</text>
<text x="656.7" y="681.8" font-family="'Liberation Serif', 'Times New Roman', serif" font-weight="bold" font-size="30" fill="#000">Back</text>
<text x="1191.2" y="667.3" font-family="'Liberation Serif', 'Times New Roman', serif" font-weight="bold" font-size="30.5" fill="#000">Cylindrical</text>
</g>
</svg></body></html>
